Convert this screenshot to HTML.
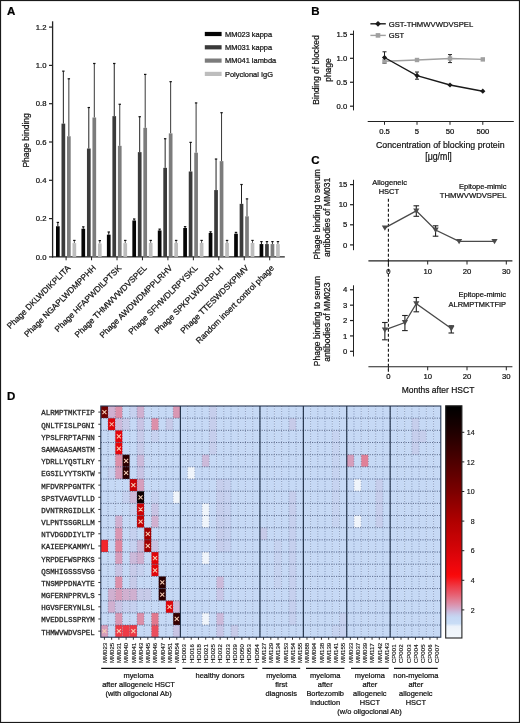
<!DOCTYPE html>
<html><head><meta charset="utf-8"><style>
html,body{margin:0;padding:0;background:#fff;}
body{width:520px;height:723px;overflow:hidden;}
svg{display:block;will-change:transform;filter:blur(0.35px);}
</style></head><body>
<svg width="520" height="723" viewBox="0 0 520 723">
<rect x="0" y="0" width="520" height="723" fill="#fff"/>
<text x="7.00" y="15.20" font-size="11.5" text-anchor="start" font-weight="bold" fill="#000" font-family='"Liberation Sans", sans-serif' stroke="#000" stroke-width="0.22">A</text>
<line x1="52.60" y1="21.30" x2="52.60" y2="257.40" stroke="#222" stroke-width="1.3"/>
<line x1="49.00" y1="256.90" x2="52.50" y2="256.90" stroke="#222" stroke-width="1.2"/>
<text x="46.50" y="259.50" font-size="7.7" text-anchor="end" font-weight="normal" fill="#111" font-family='"Liberation Sans", sans-serif' stroke="#111" stroke-width="0.22">0.0</text>
<line x1="49.00" y1="218.60" x2="52.50" y2="218.60" stroke="#222" stroke-width="1.2"/>
<text x="46.50" y="221.20" font-size="7.7" text-anchor="end" font-weight="normal" fill="#111" font-family='"Liberation Sans", sans-serif' stroke="#111" stroke-width="0.22">0.2</text>
<line x1="49.00" y1="180.30" x2="52.50" y2="180.30" stroke="#222" stroke-width="1.2"/>
<text x="46.50" y="182.90" font-size="7.7" text-anchor="end" font-weight="normal" fill="#111" font-family='"Liberation Sans", sans-serif' stroke="#111" stroke-width="0.22">0.4</text>
<line x1="49.00" y1="142.00" x2="52.50" y2="142.00" stroke="#222" stroke-width="1.2"/>
<text x="46.50" y="144.60" font-size="7.7" text-anchor="end" font-weight="normal" fill="#111" font-family='"Liberation Sans", sans-serif' stroke="#111" stroke-width="0.22">0.6</text>
<line x1="49.00" y1="103.70" x2="52.50" y2="103.70" stroke="#222" stroke-width="1.2"/>
<text x="46.50" y="106.30" font-size="7.7" text-anchor="end" font-weight="normal" fill="#111" font-family='"Liberation Sans", sans-serif' stroke="#111" stroke-width="0.22">0.8</text>
<line x1="49.00" y1="65.40" x2="52.50" y2="65.40" stroke="#222" stroke-width="1.2"/>
<text x="46.50" y="68.00" font-size="7.7" text-anchor="end" font-weight="normal" fill="#111" font-family='"Liberation Sans", sans-serif' stroke="#111" stroke-width="0.22">1.0</text>
<line x1="49.00" y1="27.10" x2="52.50" y2="27.10" stroke="#222" stroke-width="1.2"/>
<text x="46.50" y="29.70" font-size="7.7" text-anchor="end" font-weight="normal" fill="#111" font-family='"Liberation Sans", sans-serif' stroke="#111" stroke-width="0.22">1.2</text>
<text x="29.40" y="140.40" font-size="9.69" text-anchor="middle" font-weight="normal" fill="#111" font-family='"Liberation Sans", sans-serif' stroke="#111" stroke-width="0.22" textLength="54.35" lengthAdjust="spacingAndGlyphs" transform="rotate(-90 29.40 140.40)">Phage binding</text>
<line x1="52.00" y1="256.90" x2="284.80" y2="256.90" stroke="#222" stroke-width="1.4"/>
<line x1="66.10" y1="256.90" x2="66.10" y2="260.30" stroke="#222" stroke-width="1"/>
<line x1="91.55" y1="256.90" x2="91.55" y2="260.30" stroke="#222" stroke-width="1"/>
<line x1="117.00" y1="256.90" x2="117.00" y2="260.30" stroke="#222" stroke-width="1"/>
<line x1="142.45" y1="256.90" x2="142.45" y2="260.30" stroke="#222" stroke-width="1"/>
<line x1="167.90" y1="256.90" x2="167.90" y2="260.30" stroke="#222" stroke-width="1"/>
<line x1="193.35" y1="256.90" x2="193.35" y2="260.30" stroke="#222" stroke-width="1"/>
<line x1="218.80" y1="256.90" x2="218.80" y2="260.30" stroke="#222" stroke-width="1"/>
<line x1="244.25" y1="256.90" x2="244.25" y2="260.30" stroke="#222" stroke-width="1"/>
<line x1="269.70" y1="256.90" x2="269.70" y2="260.30" stroke="#222" stroke-width="1"/>
<line x1="57.85" y1="222.43" x2="57.85" y2="226.26" stroke="#111" stroke-width="1"/>
<line x1="56.65" y1="222.43" x2="59.05" y2="222.43" stroke="#111" stroke-width="1.2"/>
<rect x="56.00" y="226.26" width="3.70" height="30.64" fill="#050505"/>
<line x1="63.35" y1="71.14" x2="63.35" y2="123.62" stroke="#222" stroke-width="1"/>
<line x1="62.15" y1="71.14" x2="64.55" y2="71.14" stroke="#111" stroke-width="1.2"/>
<rect x="61.50" y="123.62" width="3.70" height="133.28" fill="#3a3a3a"/>
<line x1="68.85" y1="78.80" x2="68.85" y2="136.25" stroke="#383838" stroke-width="1"/>
<line x1="67.65" y1="78.80" x2="70.05" y2="78.80" stroke="#111" stroke-width="1.2"/>
<rect x="67.00" y="136.25" width="3.70" height="120.64" fill="#7c7c7c"/>
<line x1="74.35" y1="240.43" x2="74.35" y2="243.11" stroke="#555" stroke-width="1"/>
<line x1="73.15" y1="240.43" x2="75.55" y2="240.43" stroke="#111" stroke-width="1.2"/>
<rect x="72.50" y="243.11" width="3.70" height="13.79" fill="#bdbdbd"/>
<line x1="83.30" y1="226.83" x2="83.30" y2="228.75" stroke="#111" stroke-width="1"/>
<line x1="82.10" y1="226.83" x2="84.50" y2="226.83" stroke="#111" stroke-width="1.2"/>
<rect x="81.45" y="228.75" width="3.70" height="28.15" fill="#050505"/>
<line x1="88.80" y1="107.53" x2="88.80" y2="148.51" stroke="#222" stroke-width="1"/>
<line x1="87.60" y1="107.53" x2="90.00" y2="107.53" stroke="#111" stroke-width="1.2"/>
<rect x="86.95" y="148.51" width="3.70" height="108.39" fill="#3a3a3a"/>
<line x1="94.30" y1="63.48" x2="94.30" y2="117.49" stroke="#383838" stroke-width="1"/>
<line x1="93.10" y1="63.48" x2="95.50" y2="63.48" stroke="#111" stroke-width="1.2"/>
<rect x="92.45" y="117.49" width="3.70" height="139.41" fill="#7c7c7c"/>
<line x1="99.80" y1="240.62" x2="99.80" y2="243.49" stroke="#555" stroke-width="1"/>
<line x1="98.60" y1="240.62" x2="101.00" y2="240.62" stroke="#111" stroke-width="1.2"/>
<rect x="97.95" y="243.49" width="3.70" height="13.41" fill="#bdbdbd"/>
<line x1="108.75" y1="232.00" x2="108.75" y2="234.69" stroke="#111" stroke-width="1"/>
<line x1="107.55" y1="232.00" x2="109.95" y2="232.00" stroke="#111" stroke-width="1.2"/>
<rect x="106.90" y="234.69" width="3.70" height="22.21" fill="#050505"/>
<line x1="114.25" y1="63.48" x2="114.25" y2="116.15" stroke="#222" stroke-width="1"/>
<line x1="113.05" y1="63.48" x2="115.45" y2="63.48" stroke="#111" stroke-width="1.2"/>
<rect x="112.40" y="116.15" width="3.70" height="140.75" fill="#3a3a3a"/>
<line x1="119.75" y1="104.27" x2="119.75" y2="145.83" stroke="#383838" stroke-width="1"/>
<line x1="118.55" y1="104.27" x2="120.95" y2="104.27" stroke="#111" stroke-width="1.2"/>
<rect x="117.90" y="145.83" width="3.70" height="111.07" fill="#7c7c7c"/>
<line x1="125.25" y1="240.43" x2="125.25" y2="243.11" stroke="#555" stroke-width="1"/>
<line x1="124.05" y1="240.43" x2="126.45" y2="240.43" stroke="#111" stroke-width="1.2"/>
<rect x="123.40" y="243.11" width="3.70" height="13.79" fill="#bdbdbd"/>
<line x1="134.20" y1="218.98" x2="134.20" y2="220.51" stroke="#111" stroke-width="1"/>
<line x1="133.00" y1="218.98" x2="135.40" y2="218.98" stroke="#111" stroke-width="1.2"/>
<rect x="132.35" y="220.51" width="3.70" height="36.38" fill="#050505"/>
<line x1="139.70" y1="116.72" x2="139.70" y2="152.15" stroke="#222" stroke-width="1"/>
<line x1="138.50" y1="116.72" x2="140.90" y2="116.72" stroke="#111" stroke-width="1.2"/>
<rect x="137.85" y="152.15" width="3.70" height="104.75" fill="#3a3a3a"/>
<line x1="145.20" y1="74.40" x2="145.20" y2="127.83" stroke="#383838" stroke-width="1"/>
<line x1="144.00" y1="74.40" x2="146.40" y2="74.40" stroke="#111" stroke-width="1.2"/>
<rect x="143.35" y="127.83" width="3.70" height="129.07" fill="#7c7c7c"/>
<line x1="150.70" y1="240.43" x2="150.70" y2="242.92" stroke="#555" stroke-width="1"/>
<line x1="149.50" y1="240.43" x2="151.90" y2="240.43" stroke="#111" stroke-width="1.2"/>
<rect x="148.85" y="242.92" width="3.70" height="13.98" fill="#bdbdbd"/>
<line x1="159.65" y1="229.13" x2="159.65" y2="230.47" stroke="#111" stroke-width="1"/>
<line x1="158.45" y1="229.13" x2="160.85" y2="229.13" stroke="#111" stroke-width="1.2"/>
<rect x="157.80" y="230.47" width="3.70" height="26.43" fill="#050505"/>
<line x1="165.15" y1="138.74" x2="165.15" y2="167.85" stroke="#222" stroke-width="1"/>
<line x1="163.95" y1="138.74" x2="166.35" y2="138.74" stroke="#111" stroke-width="1.2"/>
<rect x="163.30" y="167.85" width="3.70" height="89.05" fill="#3a3a3a"/>
<line x1="170.65" y1="81.68" x2="170.65" y2="133.38" stroke="#383838" stroke-width="1"/>
<line x1="169.45" y1="81.68" x2="171.85" y2="81.68" stroke="#111" stroke-width="1.2"/>
<rect x="168.80" y="133.38" width="3.70" height="123.52" fill="#7c7c7c"/>
<line x1="176.15" y1="240.43" x2="176.15" y2="242.92" stroke="#555" stroke-width="1"/>
<line x1="174.95" y1="240.43" x2="177.35" y2="240.43" stroke="#111" stroke-width="1.2"/>
<rect x="174.30" y="242.92" width="3.70" height="13.98" fill="#bdbdbd"/>
<line x1="185.10" y1="226.64" x2="185.10" y2="227.98" stroke="#111" stroke-width="1"/>
<line x1="183.90" y1="226.64" x2="186.30" y2="226.64" stroke="#111" stroke-width="1.2"/>
<rect x="183.25" y="227.98" width="3.70" height="28.92" fill="#050505"/>
<line x1="190.60" y1="142.38" x2="190.60" y2="171.49" stroke="#222" stroke-width="1"/>
<line x1="189.40" y1="142.38" x2="191.80" y2="142.38" stroke="#111" stroke-width="1.2"/>
<rect x="188.75" y="171.49" width="3.70" height="85.41" fill="#3a3a3a"/>
<line x1="196.10" y1="102.93" x2="196.10" y2="152.72" stroke="#383838" stroke-width="1"/>
<line x1="194.90" y1="102.93" x2="197.30" y2="102.93" stroke="#111" stroke-width="1.2"/>
<rect x="194.25" y="152.72" width="3.70" height="104.18" fill="#7c7c7c"/>
<line x1="201.60" y1="240.43" x2="201.60" y2="242.92" stroke="#555" stroke-width="1"/>
<line x1="200.40" y1="240.43" x2="202.80" y2="240.43" stroke="#111" stroke-width="1.2"/>
<rect x="199.75" y="242.92" width="3.70" height="13.98" fill="#bdbdbd"/>
<line x1="210.55" y1="231.81" x2="210.55" y2="232.96" stroke="#111" stroke-width="1"/>
<line x1="209.35" y1="231.81" x2="211.75" y2="231.81" stroke="#111" stroke-width="1.2"/>
<rect x="208.70" y="232.96" width="3.70" height="23.94" fill="#050505"/>
<line x1="216.05" y1="159.04" x2="216.05" y2="190.07" stroke="#222" stroke-width="1"/>
<line x1="214.85" y1="159.04" x2="217.25" y2="159.04" stroke="#111" stroke-width="1.2"/>
<rect x="214.20" y="190.07" width="3.70" height="66.83" fill="#3a3a3a"/>
<line x1="221.55" y1="112.70" x2="221.55" y2="161.15" stroke="#383838" stroke-width="1"/>
<line x1="220.35" y1="112.70" x2="222.75" y2="112.70" stroke="#111" stroke-width="1.2"/>
<rect x="219.70" y="161.15" width="3.70" height="95.75" fill="#7c7c7c"/>
<line x1="227.05" y1="240.43" x2="227.05" y2="242.92" stroke="#555" stroke-width="1"/>
<line x1="225.85" y1="240.43" x2="228.25" y2="240.43" stroke="#111" stroke-width="1.2"/>
<rect x="225.20" y="242.92" width="3.70" height="13.98" fill="#bdbdbd"/>
<line x1="236.00" y1="232.39" x2="236.00" y2="233.73" stroke="#111" stroke-width="1"/>
<line x1="234.80" y1="232.39" x2="237.20" y2="232.39" stroke="#111" stroke-width="1.2"/>
<rect x="234.15" y="233.73" width="3.70" height="23.17" fill="#050505"/>
<line x1="241.50" y1="184.51" x2="241.50" y2="203.85" stroke="#222" stroke-width="1"/>
<line x1="240.30" y1="184.51" x2="242.70" y2="184.51" stroke="#111" stroke-width="1.2"/>
<rect x="239.65" y="203.85" width="3.70" height="53.05" fill="#3a3a3a"/>
<line x1="247.00" y1="198.88" x2="247.00" y2="216.30" stroke="#383838" stroke-width="1"/>
<line x1="245.80" y1="198.88" x2="248.20" y2="198.88" stroke="#111" stroke-width="1.2"/>
<rect x="245.15" y="216.30" width="3.70" height="40.60" fill="#7c7c7c"/>
<line x1="252.50" y1="240.43" x2="252.50" y2="242.92" stroke="#555" stroke-width="1"/>
<line x1="251.30" y1="240.43" x2="253.70" y2="240.43" stroke="#111" stroke-width="1.2"/>
<rect x="250.65" y="242.92" width="3.70" height="13.98" fill="#bdbdbd"/>
<line x1="261.45" y1="241.58" x2="261.45" y2="244.07" stroke="#111" stroke-width="1"/>
<line x1="260.25" y1="241.58" x2="262.65" y2="241.58" stroke="#111" stroke-width="1.2"/>
<rect x="259.60" y="244.07" width="3.70" height="12.83" fill="#050505"/>
<line x1="266.95" y1="241.58" x2="266.95" y2="244.07" stroke="#222" stroke-width="1"/>
<line x1="265.75" y1="241.58" x2="268.15" y2="241.58" stroke="#111" stroke-width="1.2"/>
<rect x="265.10" y="244.07" width="3.70" height="12.83" fill="#3a3a3a"/>
<line x1="272.45" y1="241.58" x2="272.45" y2="244.07" stroke="#383838" stroke-width="1"/>
<line x1="271.25" y1="241.58" x2="273.65" y2="241.58" stroke="#111" stroke-width="1.2"/>
<rect x="270.60" y="244.07" width="3.70" height="12.83" fill="#7c7c7c"/>
<line x1="277.95" y1="241.58" x2="277.95" y2="244.07" stroke="#555" stroke-width="1"/>
<line x1="276.75" y1="241.58" x2="279.15" y2="241.58" stroke="#111" stroke-width="1.2"/>
<rect x="276.10" y="244.07" width="3.70" height="12.83" fill="#bdbdbd"/>
<rect x="204.80" y="31.90" width="16.80" height="4.20" fill="#050505"/>
<text x="225.00" y="36.70" font-size="7.45" text-anchor="start" font-weight="normal" fill="#111" font-family='"Liberation Sans", sans-serif' stroke="#111" stroke-width="0.22">MM023 kappa</text>
<rect x="204.80" y="45.20" width="16.80" height="4.20" fill="#3a3a3a"/>
<text x="225.00" y="50.00" font-size="7.45" text-anchor="start" font-weight="normal" fill="#111" font-family='"Liberation Sans", sans-serif' stroke="#111" stroke-width="0.22">MM031 kappa</text>
<rect x="204.80" y="58.50" width="16.80" height="4.20" fill="#7c7c7c"/>
<text x="225.00" y="63.30" font-size="7.45" text-anchor="start" font-weight="normal" fill="#111" font-family='"Liberation Sans", sans-serif' stroke="#111" stroke-width="0.22">MM041 lambda</text>
<rect x="204.80" y="71.80" width="16.80" height="4.20" fill="#bdbdbd"/>
<text x="225.00" y="76.60" font-size="7.45" text-anchor="start" font-weight="normal" fill="#111" font-family='"Liberation Sans", sans-serif' stroke="#111" stroke-width="0.22">Polyclonal IgG</text>
<text x="71.00" y="268.60" font-size="8.3" text-anchor="end" font-weight="normal" fill="#111" font-family='"Liberation Sans", sans-serif' stroke="#111" stroke-width="0.22" transform="rotate(-45 71.00 268.60)">Phage DKLWDIKPLITA</text>
<text x="96.45" y="268.60" font-size="8.3" text-anchor="end" font-weight="normal" fill="#111" font-family='"Liberation Sans", sans-serif' stroke="#111" stroke-width="0.22" transform="rotate(-45 96.45 268.60)">Phage NGAPLWDMPPHH</text>
<text x="121.90" y="268.60" font-size="8.3" text-anchor="end" font-weight="normal" fill="#111" font-family='"Liberation Sans", sans-serif' stroke="#111" stroke-width="0.22" transform="rotate(-45 121.90 268.60)">Phage HFAPWDILPTSK</text>
<text x="147.35" y="268.60" font-size="8.3" text-anchor="end" font-weight="normal" fill="#111" font-family='"Liberation Sans", sans-serif' stroke="#111" stroke-width="0.22" transform="rotate(-45 147.35 268.60)">Phage THMWVWDVSPEL</text>
<text x="172.80" y="268.60" font-size="8.3" text-anchor="end" font-weight="normal" fill="#111" font-family='"Liberation Sans", sans-serif' stroke="#111" stroke-width="0.22" transform="rotate(-45 172.80 268.60)">Phage AWDWDMPPLRHV</text>
<text x="198.25" y="268.60" font-size="8.3" text-anchor="end" font-weight="normal" fill="#111" font-family='"Liberation Sans", sans-serif' stroke="#111" stroke-width="0.22" transform="rotate(-45 198.25 268.60)">Phage SFHWDLRPYSKL</text>
<text x="223.70" y="268.60" font-size="8.3" text-anchor="end" font-weight="normal" fill="#111" font-family='"Liberation Sans", sans-serif' stroke="#111" stroke-width="0.22" transform="rotate(-45 223.70 268.60)">Phage SPKPLWDLRPLH</text>
<text x="249.15" y="268.60" font-size="8.3" text-anchor="end" font-weight="normal" fill="#111" font-family='"Liberation Sans", sans-serif' stroke="#111" stroke-width="0.22" transform="rotate(-45 249.15 268.60)">Phage TTESWDSKPIMV</text>
<text x="274.60" y="268.60" font-size="8.3" text-anchor="end" font-weight="normal" fill="#111" font-family='"Liberation Sans", sans-serif' stroke="#111" stroke-width="0.22" transform="rotate(-45 274.60 268.60)">Random insert control phage</text>
<text x="311.30" y="15.20" font-size="11.5" text-anchor="start" font-weight="bold" fill="#000" font-family='"Liberation Sans", sans-serif' stroke="#000" stroke-width="0.22">B</text>
<line x1="353.50" y1="30.60" x2="353.50" y2="110.40" stroke="#222" stroke-width="1"/>
<line x1="350.00" y1="106.20" x2="353.50" y2="106.20" stroke="#222" stroke-width="1.2"/>
<text x="347.20" y="108.80" font-size="7.7" text-anchor="end" font-weight="normal" fill="#111" font-family='"Liberation Sans", sans-serif' stroke="#111" stroke-width="0.22">0.0</text>
<line x1="350.00" y1="82.25" x2="353.50" y2="82.25" stroke="#222" stroke-width="1.2"/>
<text x="347.20" y="84.85" font-size="7.7" text-anchor="end" font-weight="normal" fill="#111" font-family='"Liberation Sans", sans-serif' stroke="#111" stroke-width="0.22">0.5</text>
<line x1="350.00" y1="58.30" x2="353.50" y2="58.30" stroke="#222" stroke-width="1.2"/>
<text x="347.20" y="60.90" font-size="7.7" text-anchor="end" font-weight="normal" fill="#111" font-family='"Liberation Sans", sans-serif' stroke="#111" stroke-width="0.22">1.0</text>
<line x1="350.00" y1="34.35" x2="353.50" y2="34.35" stroke="#222" stroke-width="1.2"/>
<text x="347.20" y="36.95" font-size="7.7" text-anchor="end" font-weight="normal" fill="#111" font-family='"Liberation Sans", sans-serif' stroke="#111" stroke-width="0.22">1.5</text>
<text x="319.40" y="69.90" font-size="9.69" text-anchor="middle" font-weight="normal" fill="#111" font-family='"Liberation Sans", sans-serif' stroke="#111" stroke-width="0.22" textLength="69.47" lengthAdjust="spacingAndGlyphs" transform="rotate(-90 319.40 69.90)">Binding of blocked</text>
<text x="330.60" y="70.00" font-size="9.69" text-anchor="middle" font-weight="normal" fill="#111" font-family='"Liberation Sans", sans-serif' stroke="#111" stroke-width="0.22" textLength="23.64" lengthAdjust="spacingAndGlyphs" transform="rotate(-90 330.60 70.00)">phage</text>
<line x1="367.70" y1="121.50" x2="513.80" y2="121.50" stroke="#222" stroke-width="1.1"/>
<line x1="384.50" y1="121.50" x2="384.50" y2="124.80" stroke="#222" stroke-width="1"/>
<text x="384.50" y="134.40" font-size="7.7" text-anchor="middle" font-weight="normal" fill="#111" font-family='"Liberation Sans", sans-serif' stroke="#111" stroke-width="0.22">0.5</text>
<line x1="417.00" y1="121.50" x2="417.00" y2="124.80" stroke="#222" stroke-width="1"/>
<text x="417.00" y="134.40" font-size="7.7" text-anchor="middle" font-weight="normal" fill="#111" font-family='"Liberation Sans", sans-serif' stroke="#111" stroke-width="0.22">5</text>
<line x1="450.00" y1="121.50" x2="450.00" y2="124.80" stroke="#222" stroke-width="1"/>
<text x="450.00" y="134.40" font-size="7.7" text-anchor="middle" font-weight="normal" fill="#111" font-family='"Liberation Sans", sans-serif' stroke="#111" stroke-width="0.22">50</text>
<line x1="482.80" y1="121.50" x2="482.80" y2="124.80" stroke="#222" stroke-width="1"/>
<text x="482.80" y="134.40" font-size="7.7" text-anchor="middle" font-weight="normal" fill="#111" font-family='"Liberation Sans", sans-serif' stroke="#111" stroke-width="0.22">500</text>
<text x="440.30" y="147.60" font-size="9.9" text-anchor="middle" font-weight="normal" fill="#111" font-family='"Liberation Sans", sans-serif' stroke="#111" stroke-width="0.22" textLength="128.6" lengthAdjust="spacingAndGlyphs">Concentration of blocking protein</text>
<text x="438.50" y="159.60" font-size="10.03" text-anchor="middle" font-weight="normal" fill="#111" font-family='"Liberation Sans", sans-serif' stroke="#111" stroke-width="0.22" textLength="26.58" lengthAdjust="spacingAndGlyphs">[μg/ml]</text>
<polyline points="384.5,61.3 417.0,60.0 450.0,58.5 482.8,59.4" fill="none" stroke="#a0a0a0" stroke-width="1.4"/>
<polyline points="384.5,57.5 417.0,75.6 450.0,85.0 482.8,91.2" fill="none" stroke="#1a1a1a" stroke-width="1.4"/>
<line x1="384.50" y1="51.80" x2="384.50" y2="63.20" stroke="#222" stroke-width="1"/>
<line x1="382.50" y1="51.80" x2="386.50" y2="51.80" stroke="#222" stroke-width="1"/>
<line x1="382.50" y1="63.20" x2="386.50" y2="63.20" stroke="#222" stroke-width="1"/>
<line x1="417.00" y1="72.00" x2="417.00" y2="79.20" stroke="#222" stroke-width="1"/>
<line x1="415.00" y1="72.00" x2="419.00" y2="72.00" stroke="#222" stroke-width="1"/>
<line x1="415.00" y1="79.20" x2="419.00" y2="79.20" stroke="#222" stroke-width="1"/>
<line x1="450.00" y1="54.60" x2="450.00" y2="62.60" stroke="#222" stroke-width="1"/>
<line x1="448.00" y1="54.60" x2="452.00" y2="54.60" stroke="#222" stroke-width="1"/>
<line x1="448.00" y1="62.60" x2="452.00" y2="62.60" stroke="#222" stroke-width="1"/>
<rect x="382.30" y="59.10" width="4.40" height="4.40" fill="#a0a0a0"/>
<rect x="414.80" y="57.80" width="4.40" height="4.40" fill="#a0a0a0"/>
<rect x="447.80" y="56.30" width="4.40" height="4.40" fill="#a0a0a0"/>
<rect x="480.60" y="57.20" width="4.40" height="4.40" fill="#a0a0a0"/>
<polygon points="384.5,54.9 387.1,57.5 384.5,60.1 381.9,57.5" fill="#1a1a1a"/>
<polygon points="417.0,73.0 419.6,75.6 417.0,78.2 414.4,75.6" fill="#1a1a1a"/>
<polygon points="450.0,82.4 452.6,85.0 450.0,87.6 447.4,85.0" fill="#1a1a1a"/>
<polygon points="482.8,88.6 485.4,91.2 482.8,93.8 480.2,91.2" fill="#1a1a1a"/>
<line x1="370.40" y1="23.80" x2="385.80" y2="23.80" stroke="#1a1a1a" stroke-width="1.4"/>
<polygon points="378,20.9 380.9,23.8 378,26.7 375.1,23.8" fill="#1a1a1a"/>
<text x="388.70" y="26.50" font-size="7.7" text-anchor="start" font-weight="normal" fill="#111" font-family='"Liberation Sans", sans-serif' stroke="#111" stroke-width="0.22">GST-THMWVWDVSPEL</text>
<line x1="370.40" y1="35.40" x2="385.80" y2="35.40" stroke="#a0a0a0" stroke-width="1.4"/>
<rect x="375.70" y="33.10" width="4.60" height="4.60" fill="#a0a0a0"/>
<text x="388.70" y="38.10" font-size="7.5" text-anchor="start" font-weight="normal" fill="#111" font-family='"Liberation Sans", sans-serif' stroke="#111" stroke-width="0.22">GST</text>
<text x="311.30" y="163.70" font-size="11.5" text-anchor="start" font-weight="bold" fill="#000" font-family='"Liberation Sans", sans-serif' stroke="#000" stroke-width="0.22">C</text>
<line x1="353.50" y1="179.80" x2="353.50" y2="250.20" stroke="#222" stroke-width="1"/>
<line x1="350.00" y1="244.90" x2="353.50" y2="244.90" stroke="#222" stroke-width="1.2"/>
<text x="347.30" y="247.50" font-size="7.7" text-anchor="end" font-weight="normal" fill="#111" font-family='"Liberation Sans", sans-serif' stroke="#111" stroke-width="0.22">0</text>
<line x1="350.00" y1="224.80" x2="353.50" y2="224.80" stroke="#222" stroke-width="1.2"/>
<text x="347.30" y="227.40" font-size="7.7" text-anchor="end" font-weight="normal" fill="#111" font-family='"Liberation Sans", sans-serif' stroke="#111" stroke-width="0.22">5</text>
<line x1="350.00" y1="204.70" x2="353.50" y2="204.70" stroke="#222" stroke-width="1.2"/>
<text x="347.30" y="207.30" font-size="7.7" text-anchor="end" font-weight="normal" fill="#111" font-family='"Liberation Sans", sans-serif' stroke="#111" stroke-width="0.22">10</text>
<line x1="350.00" y1="184.60" x2="353.50" y2="184.60" stroke="#222" stroke-width="1.2"/>
<text x="347.30" y="187.20" font-size="7.7" text-anchor="end" font-weight="normal" fill="#111" font-family='"Liberation Sans", sans-serif' stroke="#111" stroke-width="0.22">15</text>
<line x1="368.40" y1="260.90" x2="512.40" y2="260.90" stroke="#222" stroke-width="1.1"/>
<line x1="388.40" y1="260.90" x2="388.40" y2="264.50" stroke="#222" stroke-width="1"/>
<text x="388.40" y="274.20" font-size="7.7" text-anchor="middle" font-weight="normal" fill="#111" font-family='"Liberation Sans", sans-serif' stroke="#111" stroke-width="0.22">0</text>
<line x1="427.70" y1="260.90" x2="427.70" y2="264.50" stroke="#222" stroke-width="1"/>
<text x="427.70" y="274.20" font-size="7.7" text-anchor="middle" font-weight="normal" fill="#111" font-family='"Liberation Sans", sans-serif' stroke="#111" stroke-width="0.22">10</text>
<line x1="467.00" y1="260.90" x2="467.00" y2="264.50" stroke="#222" stroke-width="1"/>
<text x="467.00" y="274.20" font-size="7.7" text-anchor="middle" font-weight="normal" fill="#111" font-family='"Liberation Sans", sans-serif' stroke="#111" stroke-width="0.22">20</text>
<line x1="506.30" y1="260.90" x2="506.30" y2="264.50" stroke="#222" stroke-width="1"/>
<text x="506.30" y="274.20" font-size="7.7" text-anchor="middle" font-weight="normal" fill="#111" font-family='"Liberation Sans", sans-serif' stroke="#111" stroke-width="0.22">30</text>
<text x="320.40" y="214.30" font-size="9.75" text-anchor="middle" font-weight="normal" fill="#111" font-family='"Liberation Sans", sans-serif' stroke="#111" stroke-width="0.22" textLength="90.31" lengthAdjust="spacingAndGlyphs" transform="rotate(-90 320.40 214.30)">Phage binding to serum</text>
<text x="330.20" y="217.40" font-size="9.75" text-anchor="middle" font-weight="normal" fill="#111" font-family='"Liberation Sans", sans-serif' stroke="#111" stroke-width="0.22" textLength="79.37" lengthAdjust="spacingAndGlyphs" transform="rotate(-90 330.20 217.40)">antibodies of MM031</text>
<text x="389.60" y="185.10" font-size="7.5" text-anchor="middle" font-weight="normal" fill="#111" font-family='"Liberation Sans", sans-serif' stroke="#111" stroke-width="0.22">Allogeneic</text>
<text x="388.90" y="194.20" font-size="7.5" text-anchor="middle" font-weight="normal" fill="#111" font-family='"Liberation Sans", sans-serif' stroke="#111" stroke-width="0.22">HSCT</text>
<text x="506.50" y="189.40" font-size="7.5" text-anchor="end" font-weight="normal" fill="#111" font-family='"Liberation Sans", sans-serif' stroke="#111" stroke-width="0.22">Epitope-mimic</text>
<text x="506.50" y="198.40" font-size="7.7" text-anchor="end" font-weight="normal" fill="#111" font-family='"Liberation Sans", sans-serif' stroke="#111" stroke-width="0.22">THMWVWDVSPEL</text>
<line x1="388.4" y1="198.8" x2="388.4" y2="375" stroke="#111" stroke-width="1.1" stroke-dasharray="3,2"/>
<polyline points="384.9,227.9 416.3,210.9 435.6,230.0 459.1,241.4 494.5,241.4" fill="none" stroke="#4a4a4a" stroke-width="1.3"/>
<polygon points="381.8,225.5 388.0,225.5 384.9,230.8" fill="#4a4a4a"/>
<line x1="416.30" y1="205.80" x2="416.30" y2="216.30" stroke="#222" stroke-width="1.1"/>
<line x1="413.50" y1="205.80" x2="419.10" y2="205.80" stroke="#222" stroke-width="1.1"/>
<line x1="413.50" y1="216.30" x2="419.10" y2="216.30" stroke="#222" stroke-width="1.1"/>
<polygon points="413.2,208.5 419.4,208.5 416.3,213.8" fill="#4a4a4a"/>
<line x1="435.56" y1="225.80" x2="435.56" y2="236.20" stroke="#222" stroke-width="1.1"/>
<line x1="432.76" y1="225.80" x2="438.36" y2="225.80" stroke="#222" stroke-width="1.1"/>
<line x1="432.76" y1="236.20" x2="438.36" y2="236.20" stroke="#222" stroke-width="1.1"/>
<polygon points="432.5,227.6 438.7,227.6 435.6,232.9" fill="#4a4a4a"/>
<polygon points="456.0,239.0 462.2,239.0 459.1,244.3" fill="#4a4a4a"/>
<polygon points="491.4,239.0 497.6,239.0 494.5,244.3" fill="#4a4a4a"/>
<line x1="353.50" y1="285.30" x2="353.50" y2="356.50" stroke="#222" stroke-width="1"/>
<line x1="350.00" y1="351.30" x2="353.50" y2="351.30" stroke="#222" stroke-width="1.2"/>
<text x="347.30" y="353.90" font-size="7.7" text-anchor="end" font-weight="normal" fill="#111" font-family='"Liberation Sans", sans-serif' stroke="#111" stroke-width="0.22">0</text>
<line x1="350.00" y1="335.92" x2="353.50" y2="335.92" stroke="#222" stroke-width="1.2"/>
<text x="347.30" y="338.52" font-size="7.7" text-anchor="end" font-weight="normal" fill="#111" font-family='"Liberation Sans", sans-serif' stroke="#111" stroke-width="0.22">1</text>
<line x1="350.00" y1="320.54" x2="353.50" y2="320.54" stroke="#222" stroke-width="1.2"/>
<text x="347.30" y="323.14" font-size="7.7" text-anchor="end" font-weight="normal" fill="#111" font-family='"Liberation Sans", sans-serif' stroke="#111" stroke-width="0.22">2</text>
<line x1="350.00" y1="305.16" x2="353.50" y2="305.16" stroke="#222" stroke-width="1.2"/>
<text x="347.30" y="307.76" font-size="7.7" text-anchor="end" font-weight="normal" fill="#111" font-family='"Liberation Sans", sans-serif' stroke="#111" stroke-width="0.22">3</text>
<line x1="350.00" y1="289.78" x2="353.50" y2="289.78" stroke="#222" stroke-width="1.2"/>
<text x="347.30" y="292.38" font-size="7.7" text-anchor="end" font-weight="normal" fill="#111" font-family='"Liberation Sans", sans-serif' stroke="#111" stroke-width="0.22">4</text>
<line x1="368.40" y1="366.70" x2="512.40" y2="366.70" stroke="#222" stroke-width="1.1"/>
<line x1="388.40" y1="366.70" x2="388.40" y2="370.30" stroke="#222" stroke-width="1"/>
<text x="388.40" y="379.10" font-size="7.7" text-anchor="middle" font-weight="normal" fill="#111" font-family='"Liberation Sans", sans-serif' stroke="#111" stroke-width="0.22">0</text>
<line x1="427.70" y1="366.70" x2="427.70" y2="370.30" stroke="#222" stroke-width="1"/>
<text x="427.70" y="379.10" font-size="7.7" text-anchor="middle" font-weight="normal" fill="#111" font-family='"Liberation Sans", sans-serif' stroke="#111" stroke-width="0.22">10</text>
<line x1="467.00" y1="366.70" x2="467.00" y2="370.30" stroke="#222" stroke-width="1"/>
<text x="467.00" y="379.10" font-size="7.7" text-anchor="middle" font-weight="normal" fill="#111" font-family='"Liberation Sans", sans-serif' stroke="#111" stroke-width="0.22">20</text>
<line x1="506.30" y1="366.70" x2="506.30" y2="370.30" stroke="#222" stroke-width="1"/>
<text x="506.30" y="379.10" font-size="7.7" text-anchor="middle" font-weight="normal" fill="#111" font-family='"Liberation Sans", sans-serif' stroke="#111" stroke-width="0.22">30</text>
<text x="320.30" y="321.00" font-size="9.75" text-anchor="middle" font-weight="normal" fill="#111" font-family='"Liberation Sans", sans-serif' stroke="#111" stroke-width="0.22" textLength="90.31" lengthAdjust="spacingAndGlyphs" transform="rotate(-90 320.30 321.00)">Phage binding to serum</text>
<text x="330.20" y="322.10" font-size="9.75" text-anchor="middle" font-weight="normal" fill="#111" font-family='"Liberation Sans", sans-serif' stroke="#111" stroke-width="0.22" textLength="79.37" lengthAdjust="spacingAndGlyphs" transform="rotate(-90 330.20 322.10)">antibodies of MM023</text>
<text x="506.00" y="296.70" font-size="7.5" text-anchor="end" font-weight="normal" fill="#111" font-family='"Liberation Sans", sans-serif' stroke="#111" stroke-width="0.22">Epitope-mimic</text>
<text x="506.00" y="306.80" font-size="7.45" text-anchor="end" font-weight="normal" fill="#111" font-family='"Liberation Sans", sans-serif' stroke="#111" stroke-width="0.22">ALRMPTMKTFIP</text>
<polyline points="384.9,329.8 404.9,322.5 416.3,303.7 451.3,328.5" fill="none" stroke="#4a4a4a" stroke-width="1.3"/>
<line x1="384.86" y1="322.50" x2="384.86" y2="339.80" stroke="#222" stroke-width="1.1"/>
<line x1="382.06" y1="322.50" x2="387.66" y2="322.50" stroke="#222" stroke-width="1.1"/>
<line x1="382.06" y1="339.80" x2="387.66" y2="339.80" stroke="#222" stroke-width="1.1"/>
<polygon points="381.8,327.4 388.0,327.4 384.9,332.7" fill="#4a4a4a"/>
<line x1="404.91" y1="315.50" x2="404.91" y2="330.60" stroke="#222" stroke-width="1.1"/>
<line x1="402.11" y1="315.50" x2="407.71" y2="315.50" stroke="#222" stroke-width="1.1"/>
<line x1="402.11" y1="330.60" x2="407.71" y2="330.60" stroke="#222" stroke-width="1.1"/>
<polygon points="401.8,320.1 408.0,320.1 404.9,325.4" fill="#4a4a4a"/>
<line x1="416.30" y1="297.50" x2="416.30" y2="311.80" stroke="#222" stroke-width="1.1"/>
<line x1="413.50" y1="297.50" x2="419.10" y2="297.50" stroke="#222" stroke-width="1.1"/>
<line x1="413.50" y1="311.80" x2="419.10" y2="311.80" stroke="#222" stroke-width="1.1"/>
<polygon points="413.2,301.3 419.4,301.3 416.3,306.6" fill="#4a4a4a"/>
<line x1="451.28" y1="325.80" x2="451.28" y2="333.00" stroke="#222" stroke-width="1.1"/>
<line x1="448.48" y1="325.80" x2="454.08" y2="325.80" stroke="#222" stroke-width="1.1"/>
<line x1="448.48" y1="333.00" x2="454.08" y2="333.00" stroke="#222" stroke-width="1.1"/>
<polygon points="448.2,326.1 454.4,326.1 451.3,331.4" fill="#4a4a4a"/>
<text x="438.00" y="393.40" font-size="9.69" text-anchor="middle" font-weight="normal" fill="#111" font-family='"Liberation Sans", sans-serif' stroke="#111" stroke-width="0.22" textLength="72.74" lengthAdjust="spacingAndGlyphs">Months after HSCT</text>
<text x="7.00" y="399.50" font-size="11.5" text-anchor="start" font-weight="bold" fill="#000" font-family='"Liberation Sans", sans-serif' stroke="#000" stroke-width="0.22">D</text>
<rect x="100.80" y="406.00" width="7.28" height="12.22" fill="#700000"/>
<rect x="108.03" y="406.00" width="7.28" height="12.22" fill="#d0b0d0"/>
<rect x="115.27" y="406.00" width="7.28" height="12.22" fill="#dc90aa"/>
<rect x="122.50" y="406.00" width="7.28" height="12.22" fill="#c6d9f5"/>
<rect x="129.74" y="406.00" width="7.28" height="12.22" fill="#c6d1ef"/>
<rect x="136.97" y="406.00" width="7.28" height="12.22" fill="#d0b0d0"/>
<rect x="144.20" y="406.00" width="7.28" height="12.22" fill="#c6d9f5"/>
<rect x="151.44" y="406.00" width="7.28" height="12.22" fill="#c6d9f5"/>
<rect x="158.67" y="406.00" width="7.28" height="12.22" fill="#c6d9f5"/>
<rect x="165.91" y="406.00" width="7.28" height="12.22" fill="#c6d9f5"/>
<rect x="173.14" y="406.00" width="7.28" height="12.22" fill="#d997b3"/>
<rect x="180.37" y="406.00" width="7.28" height="12.22" fill="#c6d9f5"/>
<rect x="187.61" y="406.00" width="7.28" height="12.22" fill="#c6d9f5"/>
<rect x="194.84" y="406.00" width="7.28" height="12.22" fill="#c6d9f5"/>
<rect x="202.08" y="406.00" width="7.28" height="12.22" fill="#c6d9f5"/>
<rect x="209.31" y="406.00" width="7.28" height="12.22" fill="#c6ceec"/>
<rect x="216.54" y="406.00" width="7.28" height="12.22" fill="#c6d9f5"/>
<rect x="223.78" y="406.00" width="7.28" height="12.22" fill="#c6d9f5"/>
<rect x="231.01" y="406.00" width="7.28" height="12.22" fill="#c6d9f5"/>
<rect x="238.25" y="406.00" width="7.28" height="12.22" fill="#c6d9f5"/>
<rect x="245.48" y="406.00" width="7.28" height="12.22" fill="#c6d9f5"/>
<rect x="252.71" y="406.00" width="7.28" height="12.22" fill="#c6d9f5"/>
<rect x="259.95" y="406.00" width="7.28" height="12.22" fill="#c6d9f5"/>
<rect x="267.18" y="406.00" width="7.28" height="12.22" fill="#c6d9f5"/>
<rect x="274.42" y="406.00" width="7.28" height="12.22" fill="#c6d9f5"/>
<rect x="281.65" y="406.00" width="7.28" height="12.22" fill="#c6d9f5"/>
<rect x="288.88" y="406.00" width="7.28" height="12.22" fill="#c6d9f5"/>
<rect x="296.12" y="406.00" width="7.28" height="12.22" fill="#c6d9f5"/>
<rect x="303.35" y="406.00" width="7.28" height="12.22" fill="#c6d9f5"/>
<rect x="310.59" y="406.00" width="7.28" height="12.22" fill="#c6d9f5"/>
<rect x="317.82" y="406.00" width="7.28" height="12.22" fill="#c6d9f5"/>
<rect x="325.05" y="406.00" width="7.28" height="12.22" fill="#c6d9f5"/>
<rect x="332.29" y="406.00" width="7.28" height="12.22" fill="#c6d9f5"/>
<rect x="339.52" y="406.00" width="7.28" height="12.22" fill="#c6d9f5"/>
<rect x="346.76" y="406.00" width="7.28" height="12.22" fill="#c6d9f5"/>
<rect x="353.99" y="406.00" width="7.28" height="12.22" fill="#c6d9f5"/>
<rect x="361.22" y="406.00" width="7.28" height="12.22" fill="#c6d9f5"/>
<rect x="368.46" y="406.00" width="7.28" height="12.22" fill="#c6d9f5"/>
<rect x="375.69" y="406.00" width="7.28" height="12.22" fill="#c6d9f5"/>
<rect x="382.93" y="406.00" width="7.28" height="12.22" fill="#c6d9f5"/>
<rect x="390.16" y="406.00" width="7.28" height="12.22" fill="#c6d9f5"/>
<rect x="397.39" y="406.00" width="7.28" height="12.22" fill="#c6d9f5"/>
<rect x="404.63" y="406.00" width="7.28" height="12.22" fill="#c6d9f5"/>
<rect x="411.86" y="406.00" width="7.28" height="12.22" fill="#c6d9f5"/>
<rect x="419.10" y="406.00" width="7.28" height="12.22" fill="#c6d9f5"/>
<rect x="426.33" y="406.00" width="7.28" height="12.22" fill="#c6d9f5"/>
<rect x="433.56" y="406.00" width="7.28" height="12.22" fill="#c6d9f5"/>
<rect x="100.80" y="418.17" width="7.28" height="12.22" fill="#c6d9f5"/>
<rect x="108.03" y="418.17" width="7.28" height="12.22" fill="#e1050a"/>
<rect x="115.27" y="418.17" width="7.28" height="12.22" fill="#ccbada"/>
<rect x="122.50" y="418.17" width="7.28" height="12.22" fill="#c7cbe9"/>
<rect x="129.74" y="418.17" width="7.28" height="12.22" fill="#c6d9f5"/>
<rect x="136.97" y="418.17" width="7.28" height="12.22" fill="#c8c4e4"/>
<rect x="144.20" y="418.17" width="7.28" height="12.22" fill="#c6d9f5"/>
<rect x="151.44" y="418.17" width="7.28" height="12.22" fill="#dc90aa"/>
<rect x="158.67" y="418.17" width="7.28" height="12.22" fill="#c6d9f5"/>
<rect x="165.91" y="418.17" width="7.28" height="12.22" fill="#c7cbe9"/>
<rect x="173.14" y="418.17" width="7.28" height="12.22" fill="#c6d9f5"/>
<rect x="180.37" y="418.17" width="7.28" height="12.22" fill="#c6d9f5"/>
<rect x="187.61" y="418.17" width="7.28" height="12.22" fill="#c6d9f5"/>
<rect x="194.84" y="418.17" width="7.28" height="12.22" fill="#c6d9f5"/>
<rect x="202.08" y="418.17" width="7.28" height="12.22" fill="#c6d9f5"/>
<rect x="209.31" y="418.17" width="7.28" height="12.22" fill="#c6ceec"/>
<rect x="216.54" y="418.17" width="7.28" height="12.22" fill="#c6d9f5"/>
<rect x="223.78" y="418.17" width="7.28" height="12.22" fill="#c6d9f5"/>
<rect x="231.01" y="418.17" width="7.28" height="12.22" fill="#c6d9f5"/>
<rect x="238.25" y="418.17" width="7.28" height="12.22" fill="#c6d9f5"/>
<rect x="245.48" y="418.17" width="7.28" height="12.22" fill="#c6d9f5"/>
<rect x="252.71" y="418.17" width="7.28" height="12.22" fill="#c6d9f5"/>
<rect x="259.95" y="418.17" width="7.28" height="12.22" fill="#c6d9f5"/>
<rect x="267.18" y="418.17" width="7.28" height="12.22" fill="#c6d9f5"/>
<rect x="274.42" y="418.17" width="7.28" height="12.22" fill="#c6d9f5"/>
<rect x="281.65" y="418.17" width="7.28" height="12.22" fill="#c6d9f5"/>
<rect x="288.88" y="418.17" width="7.28" height="12.22" fill="#c7cbe9"/>
<rect x="296.12" y="418.17" width="7.28" height="12.22" fill="#c6d9f5"/>
<rect x="303.35" y="418.17" width="7.28" height="12.22" fill="#c6d9f5"/>
<rect x="310.59" y="418.17" width="7.28" height="12.22" fill="#c6d9f5"/>
<rect x="317.82" y="418.17" width="7.28" height="12.22" fill="#c6d9f5"/>
<rect x="325.05" y="418.17" width="7.28" height="12.22" fill="#c6d9f5"/>
<rect x="332.29" y="418.17" width="7.28" height="12.22" fill="#c6d9f5"/>
<rect x="339.52" y="418.17" width="7.28" height="12.22" fill="#c6d9f5"/>
<rect x="346.76" y="418.17" width="7.28" height="12.22" fill="#c6d9f5"/>
<rect x="353.99" y="418.17" width="7.28" height="12.22" fill="#c6d9f5"/>
<rect x="361.22" y="418.17" width="7.28" height="12.22" fill="#c6d9f5"/>
<rect x="368.46" y="418.17" width="7.28" height="12.22" fill="#c6d9f5"/>
<rect x="375.69" y="418.17" width="7.28" height="12.22" fill="#c6d9f5"/>
<rect x="382.93" y="418.17" width="7.28" height="12.22" fill="#c6d9f5"/>
<rect x="390.16" y="418.17" width="7.28" height="12.22" fill="#c6d9f5"/>
<rect x="397.39" y="418.17" width="7.28" height="12.22" fill="#c6d9f5"/>
<rect x="404.63" y="418.17" width="7.28" height="12.22" fill="#c6d9f5"/>
<rect x="411.86" y="418.17" width="7.28" height="12.22" fill="#c6ceec"/>
<rect x="419.10" y="418.17" width="7.28" height="12.22" fill="#c6d9f5"/>
<rect x="426.33" y="418.17" width="7.28" height="12.22" fill="#c6d9f5"/>
<rect x="433.56" y="418.17" width="7.28" height="12.22" fill="#c6d9f5"/>
<rect x="100.80" y="430.34" width="7.28" height="12.22" fill="#c6d9f5"/>
<rect x="108.03" y="430.34" width="7.28" height="12.22" fill="#c6d9f5"/>
<rect x="115.27" y="430.34" width="7.28" height="12.22" fill="#e5050b"/>
<rect x="122.50" y="430.34" width="7.28" height="12.22" fill="#c6d9f5"/>
<rect x="129.74" y="430.34" width="7.28" height="12.22" fill="#c6d9f5"/>
<rect x="136.97" y="430.34" width="7.28" height="12.22" fill="#c7cbe9"/>
<rect x="144.20" y="430.34" width="7.28" height="12.22" fill="#c6d9f5"/>
<rect x="151.44" y="430.34" width="7.28" height="12.22" fill="#c6d1ef"/>
<rect x="158.67" y="430.34" width="7.28" height="12.22" fill="#c6d9f5"/>
<rect x="165.91" y="430.34" width="7.28" height="12.22" fill="#c6d9f5"/>
<rect x="173.14" y="430.34" width="7.28" height="12.22" fill="#c6d9f5"/>
<rect x="180.37" y="430.34" width="7.28" height="12.22" fill="#c6d9f5"/>
<rect x="187.61" y="430.34" width="7.28" height="12.22" fill="#c6d9f5"/>
<rect x="194.84" y="430.34" width="7.28" height="12.22" fill="#c6d9f5"/>
<rect x="202.08" y="430.34" width="7.28" height="12.22" fill="#c6d9f5"/>
<rect x="209.31" y="430.34" width="7.28" height="12.22" fill="#c6ceec"/>
<rect x="216.54" y="430.34" width="7.28" height="12.22" fill="#c6d9f5"/>
<rect x="223.78" y="430.34" width="7.28" height="12.22" fill="#c6d9f5"/>
<rect x="231.01" y="430.34" width="7.28" height="12.22" fill="#c6d9f5"/>
<rect x="238.25" y="430.34" width="7.28" height="12.22" fill="#c6d9f5"/>
<rect x="245.48" y="430.34" width="7.28" height="12.22" fill="#c6d9f5"/>
<rect x="252.71" y="430.34" width="7.28" height="12.22" fill="#c6d9f5"/>
<rect x="259.95" y="430.34" width="7.28" height="12.22" fill="#c6d9f5"/>
<rect x="267.18" y="430.34" width="7.28" height="12.22" fill="#c6d9f5"/>
<rect x="274.42" y="430.34" width="7.28" height="12.22" fill="#c6d9f5"/>
<rect x="281.65" y="430.34" width="7.28" height="12.22" fill="#c6d9f5"/>
<rect x="288.88" y="430.34" width="7.28" height="12.22" fill="#c6d9f5"/>
<rect x="296.12" y="430.34" width="7.28" height="12.22" fill="#c6d9f5"/>
<rect x="303.35" y="430.34" width="7.28" height="12.22" fill="#c6d9f5"/>
<rect x="310.59" y="430.34" width="7.28" height="12.22" fill="#c6d9f5"/>
<rect x="317.82" y="430.34" width="7.28" height="12.22" fill="#c6d9f5"/>
<rect x="325.05" y="430.34" width="7.28" height="12.22" fill="#c6d9f5"/>
<rect x="332.29" y="430.34" width="7.28" height="12.22" fill="#c6d3f0"/>
<rect x="339.52" y="430.34" width="7.28" height="12.22" fill="#c6d9f5"/>
<rect x="346.76" y="430.34" width="7.28" height="12.22" fill="#c6d9f5"/>
<rect x="353.99" y="430.34" width="7.28" height="12.22" fill="#c6d9f5"/>
<rect x="361.22" y="430.34" width="7.28" height="12.22" fill="#c6d9f5"/>
<rect x="368.46" y="430.34" width="7.28" height="12.22" fill="#c6d9f5"/>
<rect x="375.69" y="430.34" width="7.28" height="12.22" fill="#c6d9f5"/>
<rect x="382.93" y="430.34" width="7.28" height="12.22" fill="#c6d9f5"/>
<rect x="390.16" y="430.34" width="7.28" height="12.22" fill="#c6d9f5"/>
<rect x="397.39" y="430.34" width="7.28" height="12.22" fill="#c6d9f5"/>
<rect x="404.63" y="430.34" width="7.28" height="12.22" fill="#c6d9f5"/>
<rect x="411.86" y="430.34" width="7.28" height="12.22" fill="#c6ceec"/>
<rect x="419.10" y="430.34" width="7.28" height="12.22" fill="#c6ceec"/>
<rect x="426.33" y="430.34" width="7.28" height="12.22" fill="#c6d9f5"/>
<rect x="433.56" y="430.34" width="7.28" height="12.22" fill="#c6d9f5"/>
<rect x="100.80" y="442.51" width="7.28" height="12.22" fill="#c6d9f5"/>
<rect x="108.03" y="442.51" width="7.28" height="12.22" fill="#c6d9f5"/>
<rect x="115.27" y="442.51" width="7.28" height="12.22" fill="#e5050b"/>
<rect x="122.50" y="442.51" width="7.28" height="12.22" fill="#c6d9f5"/>
<rect x="129.74" y="442.51" width="7.28" height="12.22" fill="#c6d9f5"/>
<rect x="136.97" y="442.51" width="7.28" height="12.22" fill="#c7cbe9"/>
<rect x="144.20" y="442.51" width="7.28" height="12.22" fill="#c6d9f5"/>
<rect x="151.44" y="442.51" width="7.28" height="12.22" fill="#c6d9f5"/>
<rect x="158.67" y="442.51" width="7.28" height="12.22" fill="#c6d9f5"/>
<rect x="165.91" y="442.51" width="7.28" height="12.22" fill="#c6d9f5"/>
<rect x="173.14" y="442.51" width="7.28" height="12.22" fill="#c6d9f5"/>
<rect x="180.37" y="442.51" width="7.28" height="12.22" fill="#c6d9f5"/>
<rect x="187.61" y="442.51" width="7.28" height="12.22" fill="#c6d9f5"/>
<rect x="194.84" y="442.51" width="7.28" height="12.22" fill="#c6d9f5"/>
<rect x="202.08" y="442.51" width="7.28" height="12.22" fill="#c6d9f5"/>
<rect x="209.31" y="442.51" width="7.28" height="12.22" fill="#c6ceec"/>
<rect x="216.54" y="442.51" width="7.28" height="12.22" fill="#c6d9f5"/>
<rect x="223.78" y="442.51" width="7.28" height="12.22" fill="#c6d9f5"/>
<rect x="231.01" y="442.51" width="7.28" height="12.22" fill="#c6d9f5"/>
<rect x="238.25" y="442.51" width="7.28" height="12.22" fill="#c6d9f5"/>
<rect x="245.48" y="442.51" width="7.28" height="12.22" fill="#c6d9f5"/>
<rect x="252.71" y="442.51" width="7.28" height="12.22" fill="#c6d9f5"/>
<rect x="259.95" y="442.51" width="7.28" height="12.22" fill="#c6d9f5"/>
<rect x="267.18" y="442.51" width="7.28" height="12.22" fill="#c6d9f5"/>
<rect x="274.42" y="442.51" width="7.28" height="12.22" fill="#c6d9f5"/>
<rect x="281.65" y="442.51" width="7.28" height="12.22" fill="#c6d9f5"/>
<rect x="288.88" y="442.51" width="7.28" height="12.22" fill="#c6d9f5"/>
<rect x="296.12" y="442.51" width="7.28" height="12.22" fill="#c6d9f5"/>
<rect x="303.35" y="442.51" width="7.28" height="12.22" fill="#c6d9f5"/>
<rect x="310.59" y="442.51" width="7.28" height="12.22" fill="#c6d9f5"/>
<rect x="317.82" y="442.51" width="7.28" height="12.22" fill="#c6d9f5"/>
<rect x="325.05" y="442.51" width="7.28" height="12.22" fill="#c6d9f5"/>
<rect x="332.29" y="442.51" width="7.28" height="12.22" fill="#c6d3f0"/>
<rect x="339.52" y="442.51" width="7.28" height="12.22" fill="#c6d9f5"/>
<rect x="346.76" y="442.51" width="7.28" height="12.22" fill="#c6d9f5"/>
<rect x="353.99" y="442.51" width="7.28" height="12.22" fill="#c6d9f5"/>
<rect x="361.22" y="442.51" width="7.28" height="12.22" fill="#c6d9f5"/>
<rect x="368.46" y="442.51" width="7.28" height="12.22" fill="#c6d9f5"/>
<rect x="375.69" y="442.51" width="7.28" height="12.22" fill="#c6d9f5"/>
<rect x="382.93" y="442.51" width="7.28" height="12.22" fill="#c6d9f5"/>
<rect x="390.16" y="442.51" width="7.28" height="12.22" fill="#c6d9f5"/>
<rect x="397.39" y="442.51" width="7.28" height="12.22" fill="#c6d9f5"/>
<rect x="404.63" y="442.51" width="7.28" height="12.22" fill="#c6d9f5"/>
<rect x="411.86" y="442.51" width="7.28" height="12.22" fill="#c6ceec"/>
<rect x="419.10" y="442.51" width="7.28" height="12.22" fill="#c6d9f5"/>
<rect x="426.33" y="442.51" width="7.28" height="12.22" fill="#c6d9f5"/>
<rect x="433.56" y="442.51" width="7.28" height="12.22" fill="#c6d9f5"/>
<rect x="100.80" y="454.68" width="7.28" height="12.22" fill="#c6d9f5"/>
<rect x="108.03" y="454.68" width="7.28" height="12.22" fill="#c6d9f5"/>
<rect x="115.27" y="454.68" width="7.28" height="12.22" fill="#dc90aa"/>
<rect x="122.50" y="454.68" width="7.28" height="12.22" fill="#2c0000"/>
<rect x="129.74" y="454.68" width="7.28" height="12.22" fill="#c6d9f5"/>
<rect x="136.97" y="454.68" width="7.28" height="12.22" fill="#ccbada"/>
<rect x="144.20" y="454.68" width="7.28" height="12.22" fill="#c6d9f5"/>
<rect x="151.44" y="454.68" width="7.28" height="12.22" fill="#c6d9f5"/>
<rect x="158.67" y="454.68" width="7.28" height="12.22" fill="#c6d9f5"/>
<rect x="165.91" y="454.68" width="7.28" height="12.22" fill="#c6d9f5"/>
<rect x="173.14" y="454.68" width="7.28" height="12.22" fill="#c6d9f5"/>
<rect x="180.37" y="454.68" width="7.28" height="12.22" fill="#c6d9f5"/>
<rect x="187.61" y="454.68" width="7.28" height="12.22" fill="#c6d9f5"/>
<rect x="194.84" y="454.68" width="7.28" height="12.22" fill="#c6d9f5"/>
<rect x="202.08" y="454.68" width="7.28" height="12.22" fill="#ccbada"/>
<rect x="209.31" y="454.68" width="7.28" height="12.22" fill="#c6d9f5"/>
<rect x="216.54" y="454.68" width="7.28" height="12.22" fill="#c6d9f5"/>
<rect x="223.78" y="454.68" width="7.28" height="12.22" fill="#c6d9f5"/>
<rect x="231.01" y="454.68" width="7.28" height="12.22" fill="#c6d9f5"/>
<rect x="238.25" y="454.68" width="7.28" height="12.22" fill="#c6d9f5"/>
<rect x="245.48" y="454.68" width="7.28" height="12.22" fill="#c6d9f5"/>
<rect x="252.71" y="454.68" width="7.28" height="12.22" fill="#c6d9f5"/>
<rect x="259.95" y="454.68" width="7.28" height="12.22" fill="#c6d9f5"/>
<rect x="267.18" y="454.68" width="7.28" height="12.22" fill="#c6d9f5"/>
<rect x="274.42" y="454.68" width="7.28" height="12.22" fill="#c6d9f5"/>
<rect x="281.65" y="454.68" width="7.28" height="12.22" fill="#c6d9f5"/>
<rect x="288.88" y="454.68" width="7.28" height="12.22" fill="#c6d9f5"/>
<rect x="296.12" y="454.68" width="7.28" height="12.22" fill="#c6d9f5"/>
<rect x="303.35" y="454.68" width="7.28" height="12.22" fill="#c6d9f5"/>
<rect x="310.59" y="454.68" width="7.28" height="12.22" fill="#c6d9f5"/>
<rect x="317.82" y="454.68" width="7.28" height="12.22" fill="#c6d9f5"/>
<rect x="325.05" y="454.68" width="7.28" height="12.22" fill="#c6d9f5"/>
<rect x="332.29" y="454.68" width="7.28" height="12.22" fill="#c6d3f0"/>
<rect x="339.52" y="454.68" width="7.28" height="12.22" fill="#c6d9f5"/>
<rect x="346.76" y="454.68" width="7.28" height="12.22" fill="#d69ebc"/>
<rect x="353.99" y="454.68" width="7.28" height="12.22" fill="#c6d9f5"/>
<rect x="361.22" y="454.68" width="7.28" height="12.22" fill="#e08097"/>
<rect x="368.46" y="454.68" width="7.28" height="12.22" fill="#c6d9f5"/>
<rect x="375.69" y="454.68" width="7.28" height="12.22" fill="#c6d9f5"/>
<rect x="382.93" y="454.68" width="7.28" height="12.22" fill="#c6d9f5"/>
<rect x="390.16" y="454.68" width="7.28" height="12.22" fill="#c6d9f5"/>
<rect x="397.39" y="454.68" width="7.28" height="12.22" fill="#c6d9f5"/>
<rect x="404.63" y="454.68" width="7.28" height="12.22" fill="#c6d9f5"/>
<rect x="411.86" y="454.68" width="7.28" height="12.22" fill="#c6d9f5"/>
<rect x="419.10" y="454.68" width="7.28" height="12.22" fill="#c6d9f5"/>
<rect x="426.33" y="454.68" width="7.28" height="12.22" fill="#c6d9f5"/>
<rect x="433.56" y="454.68" width="7.28" height="12.22" fill="#c6d9f5"/>
<rect x="100.80" y="466.85" width="7.28" height="12.22" fill="#c6d9f5"/>
<rect x="108.03" y="466.85" width="7.28" height="12.22" fill="#c6d1ef"/>
<rect x="115.27" y="466.85" width="7.28" height="12.22" fill="#d69ebc"/>
<rect x="122.50" y="466.85" width="7.28" height="12.22" fill="#2c0000"/>
<rect x="129.74" y="466.85" width="7.28" height="12.22" fill="#c6d9f5"/>
<rect x="136.97" y="466.85" width="7.28" height="12.22" fill="#c8c4e4"/>
<rect x="144.20" y="466.85" width="7.28" height="12.22" fill="#c6d9f5"/>
<rect x="151.44" y="466.85" width="7.28" height="12.22" fill="#c6d9f5"/>
<rect x="158.67" y="466.85" width="7.28" height="12.22" fill="#c6d9f5"/>
<rect x="165.91" y="466.85" width="7.28" height="12.22" fill="#c6d9f5"/>
<rect x="173.14" y="466.85" width="7.28" height="12.22" fill="#c6d9f5"/>
<rect x="180.37" y="466.85" width="7.28" height="12.22" fill="#c6d9f5"/>
<rect x="187.61" y="466.85" width="7.28" height="12.22" fill="#f0f5fb"/>
<rect x="194.84" y="466.85" width="7.28" height="12.22" fill="#c6d9f5"/>
<rect x="202.08" y="466.85" width="7.28" height="12.22" fill="#c6d9f5"/>
<rect x="209.31" y="466.85" width="7.28" height="12.22" fill="#c6d9f5"/>
<rect x="216.54" y="466.85" width="7.28" height="12.22" fill="#c6d9f5"/>
<rect x="223.78" y="466.85" width="7.28" height="12.22" fill="#c6d9f5"/>
<rect x="231.01" y="466.85" width="7.28" height="12.22" fill="#c6d9f5"/>
<rect x="238.25" y="466.85" width="7.28" height="12.22" fill="#c6d9f5"/>
<rect x="245.48" y="466.85" width="7.28" height="12.22" fill="#c6d9f5"/>
<rect x="252.71" y="466.85" width="7.28" height="12.22" fill="#c6d9f5"/>
<rect x="259.95" y="466.85" width="7.28" height="12.22" fill="#c6d9f5"/>
<rect x="267.18" y="466.85" width="7.28" height="12.22" fill="#c6d9f5"/>
<rect x="274.42" y="466.85" width="7.28" height="12.22" fill="#c6d9f5"/>
<rect x="281.65" y="466.85" width="7.28" height="12.22" fill="#c6d9f5"/>
<rect x="288.88" y="466.85" width="7.28" height="12.22" fill="#c6d9f5"/>
<rect x="296.12" y="466.85" width="7.28" height="12.22" fill="#c6d9f5"/>
<rect x="303.35" y="466.85" width="7.28" height="12.22" fill="#c6d9f5"/>
<rect x="310.59" y="466.85" width="7.28" height="12.22" fill="#c6d9f5"/>
<rect x="317.82" y="466.85" width="7.28" height="12.22" fill="#c6d9f5"/>
<rect x="325.05" y="466.85" width="7.28" height="12.22" fill="#c6d9f5"/>
<rect x="332.29" y="466.85" width="7.28" height="12.22" fill="#c6d3f0"/>
<rect x="339.52" y="466.85" width="7.28" height="12.22" fill="#c6d9f5"/>
<rect x="346.76" y="466.85" width="7.28" height="12.22" fill="#c6d9f5"/>
<rect x="353.99" y="466.85" width="7.28" height="12.22" fill="#c6d9f5"/>
<rect x="361.22" y="466.85" width="7.28" height="12.22" fill="#c6d9f5"/>
<rect x="368.46" y="466.85" width="7.28" height="12.22" fill="#c6d9f5"/>
<rect x="375.69" y="466.85" width="7.28" height="12.22" fill="#c6d9f5"/>
<rect x="382.93" y="466.85" width="7.28" height="12.22" fill="#c6d9f5"/>
<rect x="390.16" y="466.85" width="7.28" height="12.22" fill="#c6d9f5"/>
<rect x="397.39" y="466.85" width="7.28" height="12.22" fill="#c6d9f5"/>
<rect x="404.63" y="466.85" width="7.28" height="12.22" fill="#c6d9f5"/>
<rect x="411.86" y="466.85" width="7.28" height="12.22" fill="#c6d9f5"/>
<rect x="419.10" y="466.85" width="7.28" height="12.22" fill="#c6d9f5"/>
<rect x="426.33" y="466.85" width="7.28" height="12.22" fill="#c6d9f5"/>
<rect x="433.56" y="466.85" width="7.28" height="12.22" fill="#c6d9f5"/>
<rect x="100.80" y="479.02" width="7.28" height="12.22" fill="#c6d9f5"/>
<rect x="108.03" y="479.02" width="7.28" height="12.22" fill="#c6d9f5"/>
<rect x="115.27" y="479.02" width="7.28" height="12.22" fill="#c6d9f5"/>
<rect x="122.50" y="479.02" width="7.28" height="12.22" fill="#c6d9f5"/>
<rect x="129.74" y="479.02" width="7.28" height="12.22" fill="#cc0306"/>
<rect x="136.97" y="479.02" width="7.28" height="12.22" fill="#d69ebc"/>
<rect x="144.20" y="479.02" width="7.28" height="12.22" fill="#c6d9f5"/>
<rect x="151.44" y="479.02" width="7.28" height="12.22" fill="#c6d9f5"/>
<rect x="158.67" y="479.02" width="7.28" height="12.22" fill="#c6d9f5"/>
<rect x="165.91" y="479.02" width="7.28" height="12.22" fill="#c6d9f5"/>
<rect x="173.14" y="479.02" width="7.28" height="12.22" fill="#c6d9f5"/>
<rect x="180.37" y="479.02" width="7.28" height="12.22" fill="#c6d9f5"/>
<rect x="187.61" y="479.02" width="7.28" height="12.22" fill="#c6d9f5"/>
<rect x="194.84" y="479.02" width="7.28" height="12.22" fill="#c6d9f5"/>
<rect x="202.08" y="479.02" width="7.28" height="12.22" fill="#c6d9f5"/>
<rect x="209.31" y="479.02" width="7.28" height="12.22" fill="#c6d9f5"/>
<rect x="216.54" y="479.02" width="7.28" height="12.22" fill="#c6ceec"/>
<rect x="223.78" y="479.02" width="7.28" height="12.22" fill="#c6d1ef"/>
<rect x="231.01" y="479.02" width="7.28" height="12.22" fill="#c6d9f5"/>
<rect x="238.25" y="479.02" width="7.28" height="12.22" fill="#c6d9f5"/>
<rect x="245.48" y="479.02" width="7.28" height="12.22" fill="#c6d9f5"/>
<rect x="252.71" y="479.02" width="7.28" height="12.22" fill="#c6d9f5"/>
<rect x="259.95" y="479.02" width="7.28" height="12.22" fill="#c6d9f5"/>
<rect x="267.18" y="479.02" width="7.28" height="12.22" fill="#c6d9f5"/>
<rect x="274.42" y="479.02" width="7.28" height="12.22" fill="#c6d9f5"/>
<rect x="281.65" y="479.02" width="7.28" height="12.22" fill="#c6d9f5"/>
<rect x="288.88" y="479.02" width="7.28" height="12.22" fill="#c6d9f5"/>
<rect x="296.12" y="479.02" width="7.28" height="12.22" fill="#c6d9f5"/>
<rect x="303.35" y="479.02" width="7.28" height="12.22" fill="#c6d9f5"/>
<rect x="310.59" y="479.02" width="7.28" height="12.22" fill="#c6d9f5"/>
<rect x="317.82" y="479.02" width="7.28" height="12.22" fill="#c6d9f5"/>
<rect x="325.05" y="479.02" width="7.28" height="12.22" fill="#c6d9f5"/>
<rect x="332.29" y="479.02" width="7.28" height="12.22" fill="#c6d3f0"/>
<rect x="339.52" y="479.02" width="7.28" height="12.22" fill="#c6d9f5"/>
<rect x="346.76" y="479.02" width="7.28" height="12.22" fill="#c6d9f5"/>
<rect x="353.99" y="479.02" width="7.28" height="12.22" fill="#f0f5fb"/>
<rect x="361.22" y="479.02" width="7.28" height="12.22" fill="#c6d9f5"/>
<rect x="368.46" y="479.02" width="7.28" height="12.22" fill="#c6d9f5"/>
<rect x="375.69" y="479.02" width="7.28" height="12.22" fill="#c6ceec"/>
<rect x="382.93" y="479.02" width="7.28" height="12.22" fill="#c6d9f5"/>
<rect x="390.16" y="479.02" width="7.28" height="12.22" fill="#c6d9f5"/>
<rect x="397.39" y="479.02" width="7.28" height="12.22" fill="#c6d9f5"/>
<rect x="404.63" y="479.02" width="7.28" height="12.22" fill="#c6d9f5"/>
<rect x="411.86" y="479.02" width="7.28" height="12.22" fill="#c6d9f5"/>
<rect x="419.10" y="479.02" width="7.28" height="12.22" fill="#c6d9f5"/>
<rect x="426.33" y="479.02" width="7.28" height="12.22" fill="#c6d9f5"/>
<rect x="433.56" y="479.02" width="7.28" height="12.22" fill="#c6d9f5"/>
<rect x="100.80" y="491.19" width="7.28" height="12.22" fill="#c6d9f5"/>
<rect x="108.03" y="491.19" width="7.28" height="12.22" fill="#c6d9f5"/>
<rect x="115.27" y="491.19" width="7.28" height="12.22" fill="#c6d9f5"/>
<rect x="122.50" y="491.19" width="7.28" height="12.22" fill="#c6d1ef"/>
<rect x="129.74" y="491.19" width="7.28" height="12.22" fill="#ccbada"/>
<rect x="136.97" y="491.19" width="7.28" height="12.22" fill="#0d0000"/>
<rect x="144.20" y="491.19" width="7.28" height="12.22" fill="#c6d9f5"/>
<rect x="151.44" y="491.19" width="7.28" height="12.22" fill="#c6d1ef"/>
<rect x="158.67" y="491.19" width="7.28" height="12.22" fill="#c6d9f5"/>
<rect x="165.91" y="491.19" width="7.28" height="12.22" fill="#c6d9f5"/>
<rect x="173.14" y="491.19" width="7.28" height="12.22" fill="#f0f5fb"/>
<rect x="180.37" y="491.19" width="7.28" height="12.22" fill="#c6d9f5"/>
<rect x="187.61" y="491.19" width="7.28" height="12.22" fill="#c6d9f5"/>
<rect x="194.84" y="491.19" width="7.28" height="12.22" fill="#c6d9f5"/>
<rect x="202.08" y="491.19" width="7.28" height="12.22" fill="#c6d9f5"/>
<rect x="209.31" y="491.19" width="7.28" height="12.22" fill="#c6d9f5"/>
<rect x="216.54" y="491.19" width="7.28" height="12.22" fill="#c6ceec"/>
<rect x="223.78" y="491.19" width="7.28" height="12.22" fill="#c6d1ef"/>
<rect x="231.01" y="491.19" width="7.28" height="12.22" fill="#c6d9f5"/>
<rect x="238.25" y="491.19" width="7.28" height="12.22" fill="#c6d9f5"/>
<rect x="245.48" y="491.19" width="7.28" height="12.22" fill="#c6d9f5"/>
<rect x="252.71" y="491.19" width="7.28" height="12.22" fill="#c6d9f5"/>
<rect x="259.95" y="491.19" width="7.28" height="12.22" fill="#c6d9f5"/>
<rect x="267.18" y="491.19" width="7.28" height="12.22" fill="#c6d9f5"/>
<rect x="274.42" y="491.19" width="7.28" height="12.22" fill="#c6d9f5"/>
<rect x="281.65" y="491.19" width="7.28" height="12.22" fill="#c6d9f5"/>
<rect x="288.88" y="491.19" width="7.28" height="12.22" fill="#c6ceec"/>
<rect x="296.12" y="491.19" width="7.28" height="12.22" fill="#c6d9f5"/>
<rect x="303.35" y="491.19" width="7.28" height="12.22" fill="#c6d9f5"/>
<rect x="310.59" y="491.19" width="7.28" height="12.22" fill="#c6d9f5"/>
<rect x="317.82" y="491.19" width="7.28" height="12.22" fill="#c6d9f5"/>
<rect x="325.05" y="491.19" width="7.28" height="12.22" fill="#c6d9f5"/>
<rect x="332.29" y="491.19" width="7.28" height="12.22" fill="#c6d3f0"/>
<rect x="339.52" y="491.19" width="7.28" height="12.22" fill="#c6d9f5"/>
<rect x="346.76" y="491.19" width="7.28" height="12.22" fill="#c6d9f5"/>
<rect x="353.99" y="491.19" width="7.28" height="12.22" fill="#c6d9f5"/>
<rect x="361.22" y="491.19" width="7.28" height="12.22" fill="#c6d9f5"/>
<rect x="368.46" y="491.19" width="7.28" height="12.22" fill="#c6d9f5"/>
<rect x="375.69" y="491.19" width="7.28" height="12.22" fill="#c6ceec"/>
<rect x="382.93" y="491.19" width="7.28" height="12.22" fill="#c6d9f5"/>
<rect x="390.16" y="491.19" width="7.28" height="12.22" fill="#c6d9f5"/>
<rect x="397.39" y="491.19" width="7.28" height="12.22" fill="#c6d9f5"/>
<rect x="404.63" y="491.19" width="7.28" height="12.22" fill="#c6d9f5"/>
<rect x="411.86" y="491.19" width="7.28" height="12.22" fill="#c6d9f5"/>
<rect x="419.10" y="491.19" width="7.28" height="12.22" fill="#c6d9f5"/>
<rect x="426.33" y="491.19" width="7.28" height="12.22" fill="#c6d9f5"/>
<rect x="433.56" y="491.19" width="7.28" height="12.22" fill="#c6d9f5"/>
<rect x="100.80" y="503.36" width="7.28" height="12.22" fill="#c6d9f5"/>
<rect x="108.03" y="503.36" width="7.28" height="12.22" fill="#c6d9f5"/>
<rect x="115.27" y="503.36" width="7.28" height="12.22" fill="#c6d9f5"/>
<rect x="122.50" y="503.36" width="7.28" height="12.22" fill="#c6d9f5"/>
<rect x="129.74" y="503.36" width="7.28" height="12.22" fill="#c6d1ef"/>
<rect x="136.97" y="503.36" width="7.28" height="12.22" fill="#cc0306"/>
<rect x="144.20" y="503.36" width="7.28" height="12.22" fill="#c6d9f5"/>
<rect x="151.44" y="503.36" width="7.28" height="12.22" fill="#c8c4e4"/>
<rect x="158.67" y="503.36" width="7.28" height="12.22" fill="#c6d9f5"/>
<rect x="165.91" y="503.36" width="7.28" height="12.22" fill="#c6d9f5"/>
<rect x="173.14" y="503.36" width="7.28" height="12.22" fill="#c6d9f5"/>
<rect x="180.37" y="503.36" width="7.28" height="12.22" fill="#c6d9f5"/>
<rect x="187.61" y="503.36" width="7.28" height="12.22" fill="#c6d9f5"/>
<rect x="194.84" y="503.36" width="7.28" height="12.22" fill="#c6d9f5"/>
<rect x="202.08" y="503.36" width="7.28" height="12.22" fill="#f0f5fb"/>
<rect x="209.31" y="503.36" width="7.28" height="12.22" fill="#c6d9f5"/>
<rect x="216.54" y="503.36" width="7.28" height="12.22" fill="#c6ceec"/>
<rect x="223.78" y="503.36" width="7.28" height="12.22" fill="#c6d1ef"/>
<rect x="231.01" y="503.36" width="7.28" height="12.22" fill="#c6d9f5"/>
<rect x="238.25" y="503.36" width="7.28" height="12.22" fill="#c6d9f5"/>
<rect x="245.48" y="503.36" width="7.28" height="12.22" fill="#c6d9f5"/>
<rect x="252.71" y="503.36" width="7.28" height="12.22" fill="#c6d9f5"/>
<rect x="259.95" y="503.36" width="7.28" height="12.22" fill="#c6d9f5"/>
<rect x="267.18" y="503.36" width="7.28" height="12.22" fill="#c6d9f5"/>
<rect x="274.42" y="503.36" width="7.28" height="12.22" fill="#c6d9f5"/>
<rect x="281.65" y="503.36" width="7.28" height="12.22" fill="#c6d9f5"/>
<rect x="288.88" y="503.36" width="7.28" height="12.22" fill="#c6ceec"/>
<rect x="296.12" y="503.36" width="7.28" height="12.22" fill="#c6d9f5"/>
<rect x="303.35" y="503.36" width="7.28" height="12.22" fill="#c6d9f5"/>
<rect x="310.59" y="503.36" width="7.28" height="12.22" fill="#c6d9f5"/>
<rect x="317.82" y="503.36" width="7.28" height="12.22" fill="#c6d9f5"/>
<rect x="325.05" y="503.36" width="7.28" height="12.22" fill="#c6d9f5"/>
<rect x="332.29" y="503.36" width="7.28" height="12.22" fill="#c6d3f0"/>
<rect x="339.52" y="503.36" width="7.28" height="12.22" fill="#c6d9f5"/>
<rect x="346.76" y="503.36" width="7.28" height="12.22" fill="#c6d9f5"/>
<rect x="353.99" y="503.36" width="7.28" height="12.22" fill="#c6d9f5"/>
<rect x="361.22" y="503.36" width="7.28" height="12.22" fill="#c6d9f5"/>
<rect x="368.46" y="503.36" width="7.28" height="12.22" fill="#c6d9f5"/>
<rect x="375.69" y="503.36" width="7.28" height="12.22" fill="#c6ceec"/>
<rect x="382.93" y="503.36" width="7.28" height="12.22" fill="#c6d9f5"/>
<rect x="390.16" y="503.36" width="7.28" height="12.22" fill="#c6d9f5"/>
<rect x="397.39" y="503.36" width="7.28" height="12.22" fill="#c6d9f5"/>
<rect x="404.63" y="503.36" width="7.28" height="12.22" fill="#c6d9f5"/>
<rect x="411.86" y="503.36" width="7.28" height="12.22" fill="#c6d9f5"/>
<rect x="419.10" y="503.36" width="7.28" height="12.22" fill="#c6d9f5"/>
<rect x="426.33" y="503.36" width="7.28" height="12.22" fill="#c6d9f5"/>
<rect x="433.56" y="503.36" width="7.28" height="12.22" fill="#c6d9f5"/>
<rect x="100.80" y="515.53" width="7.28" height="12.22" fill="#c6d9f5"/>
<rect x="108.03" y="515.53" width="7.28" height="12.22" fill="#c6d9f5"/>
<rect x="115.27" y="515.53" width="7.28" height="12.22" fill="#d0b0d0"/>
<rect x="122.50" y="515.53" width="7.28" height="12.22" fill="#c6d9f5"/>
<rect x="129.74" y="515.53" width="7.28" height="12.22" fill="#c6d9f5"/>
<rect x="136.97" y="515.53" width="7.28" height="12.22" fill="#c30204"/>
<rect x="144.20" y="515.53" width="7.28" height="12.22" fill="#c6d9f5"/>
<rect x="151.44" y="515.53" width="7.28" height="12.22" fill="#d0b0d0"/>
<rect x="158.67" y="515.53" width="7.28" height="12.22" fill="#c6d9f5"/>
<rect x="165.91" y="515.53" width="7.28" height="12.22" fill="#c6d9f5"/>
<rect x="173.14" y="515.53" width="7.28" height="12.22" fill="#c6d9f5"/>
<rect x="180.37" y="515.53" width="7.28" height="12.22" fill="#c6d9f5"/>
<rect x="187.61" y="515.53" width="7.28" height="12.22" fill="#c6d9f5"/>
<rect x="194.84" y="515.53" width="7.28" height="12.22" fill="#c6d9f5"/>
<rect x="202.08" y="515.53" width="7.28" height="12.22" fill="#f0f5fb"/>
<rect x="209.31" y="515.53" width="7.28" height="12.22" fill="#c6d9f5"/>
<rect x="216.54" y="515.53" width="7.28" height="12.22" fill="#c6ceec"/>
<rect x="223.78" y="515.53" width="7.28" height="12.22" fill="#c6d1ef"/>
<rect x="231.01" y="515.53" width="7.28" height="12.22" fill="#c6d9f5"/>
<rect x="238.25" y="515.53" width="7.28" height="12.22" fill="#c6d9f5"/>
<rect x="245.48" y="515.53" width="7.28" height="12.22" fill="#c6d9f5"/>
<rect x="252.71" y="515.53" width="7.28" height="12.22" fill="#c6d9f5"/>
<rect x="259.95" y="515.53" width="7.28" height="12.22" fill="#c6d9f5"/>
<rect x="267.18" y="515.53" width="7.28" height="12.22" fill="#c6d9f5"/>
<rect x="274.42" y="515.53" width="7.28" height="12.22" fill="#c6d9f5"/>
<rect x="281.65" y="515.53" width="7.28" height="12.22" fill="#c6d9f5"/>
<rect x="288.88" y="515.53" width="7.28" height="12.22" fill="#c6d0ee"/>
<rect x="296.12" y="515.53" width="7.28" height="12.22" fill="#c6d9f5"/>
<rect x="303.35" y="515.53" width="7.28" height="12.22" fill="#c6d9f5"/>
<rect x="310.59" y="515.53" width="7.28" height="12.22" fill="#c6d9f5"/>
<rect x="317.82" y="515.53" width="7.28" height="12.22" fill="#c6d9f5"/>
<rect x="325.05" y="515.53" width="7.28" height="12.22" fill="#c6d9f5"/>
<rect x="332.29" y="515.53" width="7.28" height="12.22" fill="#c6d3f0"/>
<rect x="339.52" y="515.53" width="7.28" height="12.22" fill="#c6d9f5"/>
<rect x="346.76" y="515.53" width="7.28" height="12.22" fill="#c6d9f5"/>
<rect x="353.99" y="515.53" width="7.28" height="12.22" fill="#f0f5fb"/>
<rect x="361.22" y="515.53" width="7.28" height="12.22" fill="#c6d9f5"/>
<rect x="368.46" y="515.53" width="7.28" height="12.22" fill="#c6d9f5"/>
<rect x="375.69" y="515.53" width="7.28" height="12.22" fill="#c6ceec"/>
<rect x="382.93" y="515.53" width="7.28" height="12.22" fill="#c6d9f5"/>
<rect x="390.16" y="515.53" width="7.28" height="12.22" fill="#c6d9f5"/>
<rect x="397.39" y="515.53" width="7.28" height="12.22" fill="#c6d9f5"/>
<rect x="404.63" y="515.53" width="7.28" height="12.22" fill="#c6d9f5"/>
<rect x="411.86" y="515.53" width="7.28" height="12.22" fill="#c6d9f5"/>
<rect x="419.10" y="515.53" width="7.28" height="12.22" fill="#c6d9f5"/>
<rect x="426.33" y="515.53" width="7.28" height="12.22" fill="#c6d9f5"/>
<rect x="433.56" y="515.53" width="7.28" height="12.22" fill="#c6d9f5"/>
<rect x="100.80" y="527.70" width="7.28" height="12.22" fill="#c6d9f5"/>
<rect x="108.03" y="527.70" width="7.28" height="12.22" fill="#c6d9f5"/>
<rect x="115.27" y="527.70" width="7.28" height="12.22" fill="#d997b3"/>
<rect x="122.50" y="527.70" width="7.28" height="12.22" fill="#c6d9f5"/>
<rect x="129.74" y="527.70" width="7.28" height="12.22" fill="#c6d1ef"/>
<rect x="136.97" y="527.70" width="7.28" height="12.22" fill="#c6d9f5"/>
<rect x="144.20" y="527.70" width="7.28" height="12.22" fill="#a30000"/>
<rect x="151.44" y="527.70" width="7.28" height="12.22" fill="#c6d9f5"/>
<rect x="158.67" y="527.70" width="7.28" height="12.22" fill="#c6d9f5"/>
<rect x="165.91" y="527.70" width="7.28" height="12.22" fill="#c6d9f5"/>
<rect x="173.14" y="527.70" width="7.28" height="12.22" fill="#c6d9f5"/>
<rect x="180.37" y="527.70" width="7.28" height="12.22" fill="#c6d9f5"/>
<rect x="187.61" y="527.70" width="7.28" height="12.22" fill="#c6d9f5"/>
<rect x="194.84" y="527.70" width="7.28" height="12.22" fill="#c6d9f5"/>
<rect x="202.08" y="527.70" width="7.28" height="12.22" fill="#c6d9f5"/>
<rect x="209.31" y="527.70" width="7.28" height="12.22" fill="#c6d9f5"/>
<rect x="216.54" y="527.70" width="7.28" height="12.22" fill="#c6ceec"/>
<rect x="223.78" y="527.70" width="7.28" height="12.22" fill="#c6d1ef"/>
<rect x="231.01" y="527.70" width="7.28" height="12.22" fill="#c6d9f5"/>
<rect x="238.25" y="527.70" width="7.28" height="12.22" fill="#c6d9f5"/>
<rect x="245.48" y="527.70" width="7.28" height="12.22" fill="#c6d9f5"/>
<rect x="252.71" y="527.70" width="7.28" height="12.22" fill="#c6d9f5"/>
<rect x="259.95" y="527.70" width="7.28" height="12.22" fill="#c7cbe9"/>
<rect x="267.18" y="527.70" width="7.28" height="12.22" fill="#c6d9f5"/>
<rect x="274.42" y="527.70" width="7.28" height="12.22" fill="#c6d9f5"/>
<rect x="281.65" y="527.70" width="7.28" height="12.22" fill="#c6d9f5"/>
<rect x="288.88" y="527.70" width="7.28" height="12.22" fill="#c6d0ee"/>
<rect x="296.12" y="527.70" width="7.28" height="12.22" fill="#c6d9f5"/>
<rect x="303.35" y="527.70" width="7.28" height="12.22" fill="#c6d9f5"/>
<rect x="310.59" y="527.70" width="7.28" height="12.22" fill="#c6d9f5"/>
<rect x="317.82" y="527.70" width="7.28" height="12.22" fill="#c6d9f5"/>
<rect x="325.05" y="527.70" width="7.28" height="12.22" fill="#c6d9f5"/>
<rect x="332.29" y="527.70" width="7.28" height="12.22" fill="#c6d9f5"/>
<rect x="339.52" y="527.70" width="7.28" height="12.22" fill="#c6d9f5"/>
<rect x="346.76" y="527.70" width="7.28" height="12.22" fill="#c6d9f5"/>
<rect x="353.99" y="527.70" width="7.28" height="12.22" fill="#c6d9f5"/>
<rect x="361.22" y="527.70" width="7.28" height="12.22" fill="#c6d9f5"/>
<rect x="368.46" y="527.70" width="7.28" height="12.22" fill="#c6d9f5"/>
<rect x="375.69" y="527.70" width="7.28" height="12.22" fill="#c6d9f5"/>
<rect x="382.93" y="527.70" width="7.28" height="12.22" fill="#c6d9f5"/>
<rect x="390.16" y="527.70" width="7.28" height="12.22" fill="#c6d9f5"/>
<rect x="397.39" y="527.70" width="7.28" height="12.22" fill="#c6d9f5"/>
<rect x="404.63" y="527.70" width="7.28" height="12.22" fill="#c6d9f5"/>
<rect x="411.86" y="527.70" width="7.28" height="12.22" fill="#c6d9f5"/>
<rect x="419.10" y="527.70" width="7.28" height="12.22" fill="#c6d9f5"/>
<rect x="426.33" y="527.70" width="7.28" height="12.22" fill="#c6d9f5"/>
<rect x="433.56" y="527.70" width="7.28" height="12.22" fill="#c6d9f5"/>
<rect x="100.80" y="539.87" width="7.28" height="12.22" fill="#f3252c"/>
<rect x="108.03" y="539.87" width="7.28" height="12.22" fill="#c6d9f5"/>
<rect x="115.27" y="539.87" width="7.28" height="12.22" fill="#de88a0"/>
<rect x="122.50" y="539.87" width="7.28" height="12.22" fill="#c6d9f5"/>
<rect x="129.74" y="539.87" width="7.28" height="12.22" fill="#c6d1ef"/>
<rect x="136.97" y="539.87" width="7.28" height="12.22" fill="#ccbada"/>
<rect x="144.20" y="539.87" width="7.28" height="12.22" fill="#a30000"/>
<rect x="151.44" y="539.87" width="7.28" height="12.22" fill="#c8c4e4"/>
<rect x="158.67" y="539.87" width="7.28" height="12.22" fill="#c6d9f5"/>
<rect x="165.91" y="539.87" width="7.28" height="12.22" fill="#c6d9f5"/>
<rect x="173.14" y="539.87" width="7.28" height="12.22" fill="#c6d9f5"/>
<rect x="180.37" y="539.87" width="7.28" height="12.22" fill="#c6d9f5"/>
<rect x="187.61" y="539.87" width="7.28" height="12.22" fill="#c6d9f5"/>
<rect x="194.84" y="539.87" width="7.28" height="12.22" fill="#c6d9f5"/>
<rect x="202.08" y="539.87" width="7.28" height="12.22" fill="#c6d9f5"/>
<rect x="209.31" y="539.87" width="7.28" height="12.22" fill="#c6d9f5"/>
<rect x="216.54" y="539.87" width="7.28" height="12.22" fill="#c6ceec"/>
<rect x="223.78" y="539.87" width="7.28" height="12.22" fill="#c6d1ef"/>
<rect x="231.01" y="539.87" width="7.28" height="12.22" fill="#c6d9f5"/>
<rect x="238.25" y="539.87" width="7.28" height="12.22" fill="#c6d9f5"/>
<rect x="245.48" y="539.87" width="7.28" height="12.22" fill="#c6d9f5"/>
<rect x="252.71" y="539.87" width="7.28" height="12.22" fill="#c6d9f5"/>
<rect x="259.95" y="539.87" width="7.28" height="12.22" fill="#c6d9f5"/>
<rect x="267.18" y="539.87" width="7.28" height="12.22" fill="#c6d9f5"/>
<rect x="274.42" y="539.87" width="7.28" height="12.22" fill="#c6d3f0"/>
<rect x="281.65" y="539.87" width="7.28" height="12.22" fill="#c6d9f5"/>
<rect x="288.88" y="539.87" width="7.28" height="12.22" fill="#c6d0ee"/>
<rect x="296.12" y="539.87" width="7.28" height="12.22" fill="#c6d9f5"/>
<rect x="303.35" y="539.87" width="7.28" height="12.22" fill="#c6d9f5"/>
<rect x="310.59" y="539.87" width="7.28" height="12.22" fill="#c6d9f5"/>
<rect x="317.82" y="539.87" width="7.28" height="12.22" fill="#c6d9f5"/>
<rect x="325.05" y="539.87" width="7.28" height="12.22" fill="#c6d9f5"/>
<rect x="332.29" y="539.87" width="7.28" height="12.22" fill="#c6d9f5"/>
<rect x="339.52" y="539.87" width="7.28" height="12.22" fill="#c6d9f5"/>
<rect x="346.76" y="539.87" width="7.28" height="12.22" fill="#c6d9f5"/>
<rect x="353.99" y="539.87" width="7.28" height="12.22" fill="#c6d9f5"/>
<rect x="361.22" y="539.87" width="7.28" height="12.22" fill="#c6d9f5"/>
<rect x="368.46" y="539.87" width="7.28" height="12.22" fill="#c6d9f5"/>
<rect x="375.69" y="539.87" width="7.28" height="12.22" fill="#c6d9f5"/>
<rect x="382.93" y="539.87" width="7.28" height="12.22" fill="#c6d9f5"/>
<rect x="390.16" y="539.87" width="7.28" height="12.22" fill="#c6d9f5"/>
<rect x="397.39" y="539.87" width="7.28" height="12.22" fill="#c6d9f5"/>
<rect x="404.63" y="539.87" width="7.28" height="12.22" fill="#c6d9f5"/>
<rect x="411.86" y="539.87" width="7.28" height="12.22" fill="#c6d9f5"/>
<rect x="419.10" y="539.87" width="7.28" height="12.22" fill="#c6d9f5"/>
<rect x="426.33" y="539.87" width="7.28" height="12.22" fill="#c6d9f5"/>
<rect x="433.56" y="539.87" width="7.28" height="12.22" fill="#c6d9f5"/>
<rect x="100.80" y="552.04" width="7.28" height="12.22" fill="#c6d9f5"/>
<rect x="108.03" y="552.04" width="7.28" height="12.22" fill="#c6d9f5"/>
<rect x="115.27" y="552.04" width="7.28" height="12.22" fill="#d69ebc"/>
<rect x="122.50" y="552.04" width="7.28" height="12.22" fill="#c6d9f5"/>
<rect x="129.74" y="552.04" width="7.28" height="12.22" fill="#ccbada"/>
<rect x="136.97" y="552.04" width="7.28" height="12.22" fill="#d0b0d0"/>
<rect x="144.20" y="552.04" width="7.28" height="12.22" fill="#c6d9f5"/>
<rect x="151.44" y="552.04" width="7.28" height="12.22" fill="#e1050a"/>
<rect x="158.67" y="552.04" width="7.28" height="12.22" fill="#c6d9f5"/>
<rect x="165.91" y="552.04" width="7.28" height="12.22" fill="#c6d9f5"/>
<rect x="173.14" y="552.04" width="7.28" height="12.22" fill="#c6d9f5"/>
<rect x="180.37" y="552.04" width="7.28" height="12.22" fill="#c6d9f5"/>
<rect x="187.61" y="552.04" width="7.28" height="12.22" fill="#c6d9f5"/>
<rect x="194.84" y="552.04" width="7.28" height="12.22" fill="#c6d9f5"/>
<rect x="202.08" y="552.04" width="7.28" height="12.22" fill="#f0f5fb"/>
<rect x="209.31" y="552.04" width="7.28" height="12.22" fill="#c6d9f5"/>
<rect x="216.54" y="552.04" width="7.28" height="12.22" fill="#c6d9f5"/>
<rect x="223.78" y="552.04" width="7.28" height="12.22" fill="#c6d9f5"/>
<rect x="231.01" y="552.04" width="7.28" height="12.22" fill="#c6d9f5"/>
<rect x="238.25" y="552.04" width="7.28" height="12.22" fill="#c6d9f5"/>
<rect x="245.48" y="552.04" width="7.28" height="12.22" fill="#c6d9f5"/>
<rect x="252.71" y="552.04" width="7.28" height="12.22" fill="#c6d9f5"/>
<rect x="259.95" y="552.04" width="7.28" height="12.22" fill="#c6d9f5"/>
<rect x="267.18" y="552.04" width="7.28" height="12.22" fill="#c6d9f5"/>
<rect x="274.42" y="552.04" width="7.28" height="12.22" fill="#c6d3f0"/>
<rect x="281.65" y="552.04" width="7.28" height="12.22" fill="#c6d9f5"/>
<rect x="288.88" y="552.04" width="7.28" height="12.22" fill="#c6d0ee"/>
<rect x="296.12" y="552.04" width="7.28" height="12.22" fill="#c6d9f5"/>
<rect x="303.35" y="552.04" width="7.28" height="12.22" fill="#c6d9f5"/>
<rect x="310.59" y="552.04" width="7.28" height="12.22" fill="#c6d9f5"/>
<rect x="317.82" y="552.04" width="7.28" height="12.22" fill="#c6d9f5"/>
<rect x="325.05" y="552.04" width="7.28" height="12.22" fill="#c6d9f5"/>
<rect x="332.29" y="552.04" width="7.28" height="12.22" fill="#c6d9f5"/>
<rect x="339.52" y="552.04" width="7.28" height="12.22" fill="#c6d9f5"/>
<rect x="346.76" y="552.04" width="7.28" height="12.22" fill="#c6d9f5"/>
<rect x="353.99" y="552.04" width="7.28" height="12.22" fill="#c6d9f5"/>
<rect x="361.22" y="552.04" width="7.28" height="12.22" fill="#c6d9f5"/>
<rect x="368.46" y="552.04" width="7.28" height="12.22" fill="#c6d9f5"/>
<rect x="375.69" y="552.04" width="7.28" height="12.22" fill="#c6d9f5"/>
<rect x="382.93" y="552.04" width="7.28" height="12.22" fill="#c6d9f5"/>
<rect x="390.16" y="552.04" width="7.28" height="12.22" fill="#c6d9f5"/>
<rect x="397.39" y="552.04" width="7.28" height="12.22" fill="#c6d9f5"/>
<rect x="404.63" y="552.04" width="7.28" height="12.22" fill="#c6d9f5"/>
<rect x="411.86" y="552.04" width="7.28" height="12.22" fill="#c6d9f5"/>
<rect x="419.10" y="552.04" width="7.28" height="12.22" fill="#c6d9f5"/>
<rect x="426.33" y="552.04" width="7.28" height="12.22" fill="#c6d9f5"/>
<rect x="433.56" y="552.04" width="7.28" height="12.22" fill="#c6d9f5"/>
<rect x="100.80" y="564.21" width="7.28" height="12.22" fill="#c6d9f5"/>
<rect x="108.03" y="564.21" width="7.28" height="12.22" fill="#c6d9f5"/>
<rect x="115.27" y="564.21" width="7.28" height="12.22" fill="#c8c4e4"/>
<rect x="122.50" y="564.21" width="7.28" height="12.22" fill="#c6d9f5"/>
<rect x="129.74" y="564.21" width="7.28" height="12.22" fill="#c7cbe9"/>
<rect x="136.97" y="564.21" width="7.28" height="12.22" fill="#c6d1ef"/>
<rect x="144.20" y="564.21" width="7.28" height="12.22" fill="#c6d9f5"/>
<rect x="151.44" y="564.21" width="7.28" height="12.22" fill="#e1050a"/>
<rect x="158.67" y="564.21" width="7.28" height="12.22" fill="#c6d9f5"/>
<rect x="165.91" y="564.21" width="7.28" height="12.22" fill="#c6d9f5"/>
<rect x="173.14" y="564.21" width="7.28" height="12.22" fill="#c6d9f5"/>
<rect x="180.37" y="564.21" width="7.28" height="12.22" fill="#c6d9f5"/>
<rect x="187.61" y="564.21" width="7.28" height="12.22" fill="#c6d9f5"/>
<rect x="194.84" y="564.21" width="7.28" height="12.22" fill="#c6d9f5"/>
<rect x="202.08" y="564.21" width="7.28" height="12.22" fill="#c6d9f5"/>
<rect x="209.31" y="564.21" width="7.28" height="12.22" fill="#c6d9f5"/>
<rect x="216.54" y="564.21" width="7.28" height="12.22" fill="#c6d9f5"/>
<rect x="223.78" y="564.21" width="7.28" height="12.22" fill="#c6d9f5"/>
<rect x="231.01" y="564.21" width="7.28" height="12.22" fill="#c6d9f5"/>
<rect x="238.25" y="564.21" width="7.28" height="12.22" fill="#c6d9f5"/>
<rect x="245.48" y="564.21" width="7.28" height="12.22" fill="#c6d9f5"/>
<rect x="252.71" y="564.21" width="7.28" height="12.22" fill="#c6d9f5"/>
<rect x="259.95" y="564.21" width="7.28" height="12.22" fill="#c6d9f5"/>
<rect x="267.18" y="564.21" width="7.28" height="12.22" fill="#c6d9f5"/>
<rect x="274.42" y="564.21" width="7.28" height="12.22" fill="#c6d3f0"/>
<rect x="281.65" y="564.21" width="7.28" height="12.22" fill="#c6d9f5"/>
<rect x="288.88" y="564.21" width="7.28" height="12.22" fill="#c6d0ee"/>
<rect x="296.12" y="564.21" width="7.28" height="12.22" fill="#c6d9f5"/>
<rect x="303.35" y="564.21" width="7.28" height="12.22" fill="#c6d9f5"/>
<rect x="310.59" y="564.21" width="7.28" height="12.22" fill="#c6d9f5"/>
<rect x="317.82" y="564.21" width="7.28" height="12.22" fill="#c6d9f5"/>
<rect x="325.05" y="564.21" width="7.28" height="12.22" fill="#c6d9f5"/>
<rect x="332.29" y="564.21" width="7.28" height="12.22" fill="#c6d9f5"/>
<rect x="339.52" y="564.21" width="7.28" height="12.22" fill="#c6d9f5"/>
<rect x="346.76" y="564.21" width="7.28" height="12.22" fill="#c6d9f5"/>
<rect x="353.99" y="564.21" width="7.28" height="12.22" fill="#c6d9f5"/>
<rect x="361.22" y="564.21" width="7.28" height="12.22" fill="#c6d9f5"/>
<rect x="368.46" y="564.21" width="7.28" height="12.22" fill="#c6d9f5"/>
<rect x="375.69" y="564.21" width="7.28" height="12.22" fill="#c6d9f5"/>
<rect x="382.93" y="564.21" width="7.28" height="12.22" fill="#c6d9f5"/>
<rect x="390.16" y="564.21" width="7.28" height="12.22" fill="#c6d9f5"/>
<rect x="397.39" y="564.21" width="7.28" height="12.22" fill="#c6d9f5"/>
<rect x="404.63" y="564.21" width="7.28" height="12.22" fill="#c6d9f5"/>
<rect x="411.86" y="564.21" width="7.28" height="12.22" fill="#c6d9f5"/>
<rect x="419.10" y="564.21" width="7.28" height="12.22" fill="#c6d9f5"/>
<rect x="426.33" y="564.21" width="7.28" height="12.22" fill="#c6d9f5"/>
<rect x="433.56" y="564.21" width="7.28" height="12.22" fill="#c6d9f5"/>
<rect x="100.80" y="576.38" width="7.28" height="12.22" fill="#c6d9f5"/>
<rect x="108.03" y="576.38" width="7.28" height="12.22" fill="#c6d9f5"/>
<rect x="115.27" y="576.38" width="7.28" height="12.22" fill="#dc90aa"/>
<rect x="122.50" y="576.38" width="7.28" height="12.22" fill="#c6d9f5"/>
<rect x="129.74" y="576.38" width="7.28" height="12.22" fill="#c7cbe9"/>
<rect x="136.97" y="576.38" width="7.28" height="12.22" fill="#c6d9f5"/>
<rect x="144.20" y="576.38" width="7.28" height="12.22" fill="#c6d9f5"/>
<rect x="151.44" y="576.38" width="7.28" height="12.22" fill="#c6d9f5"/>
<rect x="158.67" y="576.38" width="7.28" height="12.22" fill="#2c0000"/>
<rect x="165.91" y="576.38" width="7.28" height="12.22" fill="#c6d9f5"/>
<rect x="173.14" y="576.38" width="7.28" height="12.22" fill="#c6d9f5"/>
<rect x="180.37" y="576.38" width="7.28" height="12.22" fill="#c6d9f5"/>
<rect x="187.61" y="576.38" width="7.28" height="12.22" fill="#c6d9f5"/>
<rect x="194.84" y="576.38" width="7.28" height="12.22" fill="#c6d9f5"/>
<rect x="202.08" y="576.38" width="7.28" height="12.22" fill="#c6d9f5"/>
<rect x="209.31" y="576.38" width="7.28" height="12.22" fill="#c6d9f5"/>
<rect x="216.54" y="576.38" width="7.28" height="12.22" fill="#ccbada"/>
<rect x="223.78" y="576.38" width="7.28" height="12.22" fill="#c6d9f5"/>
<rect x="231.01" y="576.38" width="7.28" height="12.22" fill="#c6d9f5"/>
<rect x="238.25" y="576.38" width="7.28" height="12.22" fill="#c6d9f5"/>
<rect x="245.48" y="576.38" width="7.28" height="12.22" fill="#c6d9f5"/>
<rect x="252.71" y="576.38" width="7.28" height="12.22" fill="#c6d9f5"/>
<rect x="259.95" y="576.38" width="7.28" height="12.22" fill="#c6d9f5"/>
<rect x="267.18" y="576.38" width="7.28" height="12.22" fill="#c6d9f5"/>
<rect x="274.42" y="576.38" width="7.28" height="12.22" fill="#c6d3f0"/>
<rect x="281.65" y="576.38" width="7.28" height="12.22" fill="#c6d9f5"/>
<rect x="288.88" y="576.38" width="7.28" height="12.22" fill="#c6d0ee"/>
<rect x="296.12" y="576.38" width="7.28" height="12.22" fill="#c6d9f5"/>
<rect x="303.35" y="576.38" width="7.28" height="12.22" fill="#c6d9f5"/>
<rect x="310.59" y="576.38" width="7.28" height="12.22" fill="#c6d9f5"/>
<rect x="317.82" y="576.38" width="7.28" height="12.22" fill="#c6d9f5"/>
<rect x="325.05" y="576.38" width="7.28" height="12.22" fill="#c6d9f5"/>
<rect x="332.29" y="576.38" width="7.28" height="12.22" fill="#c6d9f5"/>
<rect x="339.52" y="576.38" width="7.28" height="12.22" fill="#c6d9f5"/>
<rect x="346.76" y="576.38" width="7.28" height="12.22" fill="#c6d9f5"/>
<rect x="353.99" y="576.38" width="7.28" height="12.22" fill="#c6d9f5"/>
<rect x="361.22" y="576.38" width="7.28" height="12.22" fill="#c6d9f5"/>
<rect x="368.46" y="576.38" width="7.28" height="12.22" fill="#c6d9f5"/>
<rect x="375.69" y="576.38" width="7.28" height="12.22" fill="#c6d9f5"/>
<rect x="382.93" y="576.38" width="7.28" height="12.22" fill="#c6d9f5"/>
<rect x="390.16" y="576.38" width="7.28" height="12.22" fill="#c6d9f5"/>
<rect x="397.39" y="576.38" width="7.28" height="12.22" fill="#c6d9f5"/>
<rect x="404.63" y="576.38" width="7.28" height="12.22" fill="#c6d9f5"/>
<rect x="411.86" y="576.38" width="7.28" height="12.22" fill="#c6d9f5"/>
<rect x="419.10" y="576.38" width="7.28" height="12.22" fill="#c6d9f5"/>
<rect x="426.33" y="576.38" width="7.28" height="12.22" fill="#c6d9f5"/>
<rect x="433.56" y="576.38" width="7.28" height="12.22" fill="#c6d9f5"/>
<rect x="100.80" y="588.55" width="7.28" height="12.22" fill="#c6d9f5"/>
<rect x="108.03" y="588.55" width="7.28" height="12.22" fill="#d0b0d0"/>
<rect x="115.27" y="588.55" width="7.28" height="12.22" fill="#d69ebc"/>
<rect x="122.50" y="588.55" width="7.28" height="12.22" fill="#d0b0d0"/>
<rect x="129.74" y="588.55" width="7.28" height="12.22" fill="#d0b0d0"/>
<rect x="136.97" y="588.55" width="7.28" height="12.22" fill="#c7cbe9"/>
<rect x="144.20" y="588.55" width="7.28" height="12.22" fill="#c7cbe9"/>
<rect x="151.44" y="588.55" width="7.28" height="12.22" fill="#c6d9f5"/>
<rect x="158.67" y="588.55" width="7.28" height="12.22" fill="#2c0000"/>
<rect x="165.91" y="588.55" width="7.28" height="12.22" fill="#c6d9f5"/>
<rect x="173.14" y="588.55" width="7.28" height="12.22" fill="#c6d9f5"/>
<rect x="180.37" y="588.55" width="7.28" height="12.22" fill="#c6d9f5"/>
<rect x="187.61" y="588.55" width="7.28" height="12.22" fill="#c6d9f5"/>
<rect x="194.84" y="588.55" width="7.28" height="12.22" fill="#c6d9f5"/>
<rect x="202.08" y="588.55" width="7.28" height="12.22" fill="#c6d9f5"/>
<rect x="209.31" y="588.55" width="7.28" height="12.22" fill="#c6d9f5"/>
<rect x="216.54" y="588.55" width="7.28" height="12.22" fill="#c8c7e7"/>
<rect x="223.78" y="588.55" width="7.28" height="12.22" fill="#c6d9f5"/>
<rect x="231.01" y="588.55" width="7.28" height="12.22" fill="#c6d9f5"/>
<rect x="238.25" y="588.55" width="7.28" height="12.22" fill="#c6d9f5"/>
<rect x="245.48" y="588.55" width="7.28" height="12.22" fill="#c6d9f5"/>
<rect x="252.71" y="588.55" width="7.28" height="12.22" fill="#c6d9f5"/>
<rect x="259.95" y="588.55" width="7.28" height="12.22" fill="#c6d9f5"/>
<rect x="267.18" y="588.55" width="7.28" height="12.22" fill="#c6d9f5"/>
<rect x="274.42" y="588.55" width="7.28" height="12.22" fill="#c6d9f5"/>
<rect x="281.65" y="588.55" width="7.28" height="12.22" fill="#c6d9f5"/>
<rect x="288.88" y="588.55" width="7.28" height="12.22" fill="#c6d0ee"/>
<rect x="296.12" y="588.55" width="7.28" height="12.22" fill="#c6d9f5"/>
<rect x="303.35" y="588.55" width="7.28" height="12.22" fill="#c6d9f5"/>
<rect x="310.59" y="588.55" width="7.28" height="12.22" fill="#c6d9f5"/>
<rect x="317.82" y="588.55" width="7.28" height="12.22" fill="#c6d9f5"/>
<rect x="325.05" y="588.55" width="7.28" height="12.22" fill="#c6d9f5"/>
<rect x="332.29" y="588.55" width="7.28" height="12.22" fill="#c6d9f5"/>
<rect x="339.52" y="588.55" width="7.28" height="12.22" fill="#c6d9f5"/>
<rect x="346.76" y="588.55" width="7.28" height="12.22" fill="#c6d9f5"/>
<rect x="353.99" y="588.55" width="7.28" height="12.22" fill="#c6d9f5"/>
<rect x="361.22" y="588.55" width="7.28" height="12.22" fill="#c6d9f5"/>
<rect x="368.46" y="588.55" width="7.28" height="12.22" fill="#c6d9f5"/>
<rect x="375.69" y="588.55" width="7.28" height="12.22" fill="#c6d9f5"/>
<rect x="382.93" y="588.55" width="7.28" height="12.22" fill="#c6d9f5"/>
<rect x="390.16" y="588.55" width="7.28" height="12.22" fill="#c6d9f5"/>
<rect x="397.39" y="588.55" width="7.28" height="12.22" fill="#c6d9f5"/>
<rect x="404.63" y="588.55" width="7.28" height="12.22" fill="#c6d9f5"/>
<rect x="411.86" y="588.55" width="7.28" height="12.22" fill="#c6d9f5"/>
<rect x="419.10" y="588.55" width="7.28" height="12.22" fill="#c6d9f5"/>
<rect x="426.33" y="588.55" width="7.28" height="12.22" fill="#c6d9f5"/>
<rect x="433.56" y="588.55" width="7.28" height="12.22" fill="#c6d9f5"/>
<rect x="100.80" y="600.72" width="7.28" height="12.22" fill="#c6d9f5"/>
<rect x="108.03" y="600.72" width="7.28" height="12.22" fill="#d0b0d0"/>
<rect x="115.27" y="600.72" width="7.28" height="12.22" fill="#c8c4e4"/>
<rect x="122.50" y="600.72" width="7.28" height="12.22" fill="#c6d1ef"/>
<rect x="129.74" y="600.72" width="7.28" height="12.22" fill="#c6d1ef"/>
<rect x="136.97" y="600.72" width="7.28" height="12.22" fill="#c6d9f5"/>
<rect x="144.20" y="600.72" width="7.28" height="12.22" fill="#c6d9f5"/>
<rect x="151.44" y="600.72" width="7.28" height="12.22" fill="#c6d9f5"/>
<rect x="158.67" y="600.72" width="7.28" height="12.22" fill="#c6d9f5"/>
<rect x="165.91" y="600.72" width="7.28" height="12.22" fill="#e1050a"/>
<rect x="173.14" y="600.72" width="7.28" height="12.22" fill="#ccbada"/>
<rect x="180.37" y="600.72" width="7.28" height="12.22" fill="#c6d9f5"/>
<rect x="187.61" y="600.72" width="7.28" height="12.22" fill="#c6d9f5"/>
<rect x="194.84" y="600.72" width="7.28" height="12.22" fill="#c6d9f5"/>
<rect x="202.08" y="600.72" width="7.28" height="12.22" fill="#c6d9f5"/>
<rect x="209.31" y="600.72" width="7.28" height="12.22" fill="#c6d9f5"/>
<rect x="216.54" y="600.72" width="7.28" height="12.22" fill="#c6d9f5"/>
<rect x="223.78" y="600.72" width="7.28" height="12.22" fill="#c6d9f5"/>
<rect x="231.01" y="600.72" width="7.28" height="12.22" fill="#c6d9f5"/>
<rect x="238.25" y="600.72" width="7.28" height="12.22" fill="#c6d9f5"/>
<rect x="245.48" y="600.72" width="7.28" height="12.22" fill="#c6d9f5"/>
<rect x="252.71" y="600.72" width="7.28" height="12.22" fill="#c6d9f5"/>
<rect x="259.95" y="600.72" width="7.28" height="12.22" fill="#c6d9f5"/>
<rect x="267.18" y="600.72" width="7.28" height="12.22" fill="#c6d9f5"/>
<rect x="274.42" y="600.72" width="7.28" height="12.22" fill="#c6d9f5"/>
<rect x="281.65" y="600.72" width="7.28" height="12.22" fill="#c6d9f5"/>
<rect x="288.88" y="600.72" width="7.28" height="12.22" fill="#c6d0ee"/>
<rect x="296.12" y="600.72" width="7.28" height="12.22" fill="#c6d9f5"/>
<rect x="303.35" y="600.72" width="7.28" height="12.22" fill="#c6d9f5"/>
<rect x="310.59" y="600.72" width="7.28" height="12.22" fill="#c6d9f5"/>
<rect x="317.82" y="600.72" width="7.28" height="12.22" fill="#c6d9f5"/>
<rect x="325.05" y="600.72" width="7.28" height="12.22" fill="#c6d9f5"/>
<rect x="332.29" y="600.72" width="7.28" height="12.22" fill="#c6d9f5"/>
<rect x="339.52" y="600.72" width="7.28" height="12.22" fill="#c6d9f5"/>
<rect x="346.76" y="600.72" width="7.28" height="12.22" fill="#c6d9f5"/>
<rect x="353.99" y="600.72" width="7.28" height="12.22" fill="#c6d9f5"/>
<rect x="361.22" y="600.72" width="7.28" height="12.22" fill="#c6d9f5"/>
<rect x="368.46" y="600.72" width="7.28" height="12.22" fill="#c6d9f5"/>
<rect x="375.69" y="600.72" width="7.28" height="12.22" fill="#c6d9f5"/>
<rect x="382.93" y="600.72" width="7.28" height="12.22" fill="#c6d9f5"/>
<rect x="390.16" y="600.72" width="7.28" height="12.22" fill="#c6d9f5"/>
<rect x="397.39" y="600.72" width="7.28" height="12.22" fill="#c6d9f5"/>
<rect x="404.63" y="600.72" width="7.28" height="12.22" fill="#c6d9f5"/>
<rect x="411.86" y="600.72" width="7.28" height="12.22" fill="#c6d9f5"/>
<rect x="419.10" y="600.72" width="7.28" height="12.22" fill="#c6d9f5"/>
<rect x="426.33" y="600.72" width="7.28" height="12.22" fill="#c6d9f5"/>
<rect x="433.56" y="600.72" width="7.28" height="12.22" fill="#c6d9f5"/>
<rect x="100.80" y="612.89" width="7.28" height="12.22" fill="#c6d9f5"/>
<rect x="108.03" y="612.89" width="7.28" height="12.22" fill="#c6d9f5"/>
<rect x="115.27" y="612.89" width="7.28" height="12.22" fill="#d997b3"/>
<rect x="122.50" y="612.89" width="7.28" height="12.22" fill="#c6d9f5"/>
<rect x="129.74" y="612.89" width="7.28" height="12.22" fill="#c6d9f5"/>
<rect x="136.97" y="612.89" width="7.28" height="12.22" fill="#dc90aa"/>
<rect x="144.20" y="612.89" width="7.28" height="12.22" fill="#c6d9f5"/>
<rect x="151.44" y="612.89" width="7.28" height="12.22" fill="#e1798e"/>
<rect x="158.67" y="612.89" width="7.28" height="12.22" fill="#c6d9f5"/>
<rect x="165.91" y="612.89" width="7.28" height="12.22" fill="#c6d9f5"/>
<rect x="173.14" y="612.89" width="7.28" height="12.22" fill="#370000"/>
<rect x="180.37" y="612.89" width="7.28" height="12.22" fill="#c6d9f5"/>
<rect x="187.61" y="612.89" width="7.28" height="12.22" fill="#c6d9f5"/>
<rect x="194.84" y="612.89" width="7.28" height="12.22" fill="#c6d9f5"/>
<rect x="202.08" y="612.89" width="7.28" height="12.22" fill="#f0f5fb"/>
<rect x="209.31" y="612.89" width="7.28" height="12.22" fill="#c6d9f5"/>
<rect x="216.54" y="612.89" width="7.28" height="12.22" fill="#ccbada"/>
<rect x="223.78" y="612.89" width="7.28" height="12.22" fill="#c6d9f5"/>
<rect x="231.01" y="612.89" width="7.28" height="12.22" fill="#c6d9f5"/>
<rect x="238.25" y="612.89" width="7.28" height="12.22" fill="#c6d9f5"/>
<rect x="245.48" y="612.89" width="7.28" height="12.22" fill="#c6d9f5"/>
<rect x="252.71" y="612.89" width="7.28" height="12.22" fill="#c6d9f5"/>
<rect x="259.95" y="612.89" width="7.28" height="12.22" fill="#c6d9f5"/>
<rect x="267.18" y="612.89" width="7.28" height="12.22" fill="#c6d9f5"/>
<rect x="274.42" y="612.89" width="7.28" height="12.22" fill="#c6d9f5"/>
<rect x="281.65" y="612.89" width="7.28" height="12.22" fill="#c6d9f5"/>
<rect x="288.88" y="612.89" width="7.28" height="12.22" fill="#c6d0ee"/>
<rect x="296.12" y="612.89" width="7.28" height="12.22" fill="#c6d9f5"/>
<rect x="303.35" y="612.89" width="7.28" height="12.22" fill="#c6d9f5"/>
<rect x="310.59" y="612.89" width="7.28" height="12.22" fill="#c6d9f5"/>
<rect x="317.82" y="612.89" width="7.28" height="12.22" fill="#c6d9f5"/>
<rect x="325.05" y="612.89" width="7.28" height="12.22" fill="#c6d9f5"/>
<rect x="332.29" y="612.89" width="7.28" height="12.22" fill="#c6d9f5"/>
<rect x="339.52" y="612.89" width="7.28" height="12.22" fill="#c6d1ef"/>
<rect x="346.76" y="612.89" width="7.28" height="12.22" fill="#c6d9f5"/>
<rect x="353.99" y="612.89" width="7.28" height="12.22" fill="#c6d9f5"/>
<rect x="361.22" y="612.89" width="7.28" height="12.22" fill="#c6d9f5"/>
<rect x="368.46" y="612.89" width="7.28" height="12.22" fill="#c6d9f5"/>
<rect x="375.69" y="612.89" width="7.28" height="12.22" fill="#c6d9f5"/>
<rect x="382.93" y="612.89" width="7.28" height="12.22" fill="#c6d9f5"/>
<rect x="390.16" y="612.89" width="7.28" height="12.22" fill="#c6d9f5"/>
<rect x="397.39" y="612.89" width="7.28" height="12.22" fill="#c6d9f5"/>
<rect x="404.63" y="612.89" width="7.28" height="12.22" fill="#c6d9f5"/>
<rect x="411.86" y="612.89" width="7.28" height="12.22" fill="#c6d9f5"/>
<rect x="419.10" y="612.89" width="7.28" height="12.22" fill="#c6d9f5"/>
<rect x="426.33" y="612.89" width="7.28" height="12.22" fill="#c6d9f5"/>
<rect x="433.56" y="612.89" width="7.28" height="12.22" fill="#c6d9f5"/>
<rect x="100.80" y="625.06" width="7.28" height="12.22" fill="#d69ebc"/>
<rect x="108.03" y="625.06" width="7.28" height="12.22" fill="#c6d9f5"/>
<rect x="115.27" y="625.06" width="7.28" height="12.22" fill="#ee3a46"/>
<rect x="122.50" y="625.06" width="7.28" height="12.22" fill="#ee3a46"/>
<rect x="129.74" y="625.06" width="7.28" height="12.22" fill="#ee3a46"/>
<rect x="136.97" y="625.06" width="7.28" height="12.22" fill="#c6d9f5"/>
<rect x="144.20" y="625.06" width="7.28" height="12.22" fill="#c6d9f5"/>
<rect x="151.44" y="625.06" width="7.28" height="12.22" fill="#ea4e5d"/>
<rect x="158.67" y="625.06" width="7.28" height="12.22" fill="#c6d9f5"/>
<rect x="165.91" y="625.06" width="7.28" height="12.22" fill="#c6d9f5"/>
<rect x="173.14" y="625.06" width="7.28" height="12.22" fill="#c8c4e4"/>
<rect x="180.37" y="625.06" width="7.28" height="12.22" fill="#c6d9f5"/>
<rect x="187.61" y="625.06" width="7.28" height="12.22" fill="#c6d9f5"/>
<rect x="194.84" y="625.06" width="7.28" height="12.22" fill="#c6d9f5"/>
<rect x="202.08" y="625.06" width="7.28" height="12.22" fill="#c6d9f5"/>
<rect x="209.31" y="625.06" width="7.28" height="12.22" fill="#c6d9f5"/>
<rect x="216.54" y="625.06" width="7.28" height="12.22" fill="#c8c7e7"/>
<rect x="223.78" y="625.06" width="7.28" height="12.22" fill="#c6d9f5"/>
<rect x="231.01" y="625.06" width="7.28" height="12.22" fill="#c7cbe9"/>
<rect x="238.25" y="625.06" width="7.28" height="12.22" fill="#c6d9f5"/>
<rect x="245.48" y="625.06" width="7.28" height="12.22" fill="#c6d9f5"/>
<rect x="252.71" y="625.06" width="7.28" height="12.22" fill="#c6d9f5"/>
<rect x="259.95" y="625.06" width="7.28" height="12.22" fill="#c6d9f5"/>
<rect x="267.18" y="625.06" width="7.28" height="12.22" fill="#c6d9f5"/>
<rect x="274.42" y="625.06" width="7.28" height="12.22" fill="#c6d9f5"/>
<rect x="281.65" y="625.06" width="7.28" height="12.22" fill="#c6d9f5"/>
<rect x="288.88" y="625.06" width="7.28" height="12.22" fill="#c6d9f5"/>
<rect x="296.12" y="625.06" width="7.28" height="12.22" fill="#c6d9f5"/>
<rect x="303.35" y="625.06" width="7.28" height="12.22" fill="#c6d9f5"/>
<rect x="310.59" y="625.06" width="7.28" height="12.22" fill="#c6d9f5"/>
<rect x="317.82" y="625.06" width="7.28" height="12.22" fill="#c6d9f5"/>
<rect x="325.05" y="625.06" width="7.28" height="12.22" fill="#c6d9f5"/>
<rect x="332.29" y="625.06" width="7.28" height="12.22" fill="#c6d3f0"/>
<rect x="339.52" y="625.06" width="7.28" height="12.22" fill="#c6d1ef"/>
<rect x="346.76" y="625.06" width="7.28" height="12.22" fill="#c6d9f5"/>
<rect x="353.99" y="625.06" width="7.28" height="12.22" fill="#c6d9f5"/>
<rect x="361.22" y="625.06" width="7.28" height="12.22" fill="#c6d9f5"/>
<rect x="368.46" y="625.06" width="7.28" height="12.22" fill="#c6d9f5"/>
<rect x="375.69" y="625.06" width="7.28" height="12.22" fill="#c6d9f5"/>
<rect x="382.93" y="625.06" width="7.28" height="12.22" fill="#c6d9f5"/>
<rect x="390.16" y="625.06" width="7.28" height="12.22" fill="#c6d9f5"/>
<rect x="397.39" y="625.06" width="7.28" height="12.22" fill="#c6d9f5"/>
<rect x="404.63" y="625.06" width="7.28" height="12.22" fill="#c6d9f5"/>
<rect x="411.86" y="625.06" width="7.28" height="12.22" fill="#c6d9f5"/>
<rect x="419.10" y="625.06" width="7.28" height="12.22" fill="#c6d9f5"/>
<rect x="426.33" y="625.06" width="7.28" height="12.22" fill="#c6d9f5"/>
<rect x="433.56" y="625.06" width="7.28" height="12.22" fill="#c6d9f5"/>
<path d="M100.80 418.17H440.80M100.80 430.34H440.80M100.80 442.51H440.80M100.80 454.68H440.80M100.80 466.85H440.80M100.80 479.02H440.80M100.80 491.19H440.80M100.80 503.36H440.80M100.80 515.53H440.80M100.80 527.70H440.80M100.80 539.87H440.80M100.80 552.04H440.80M100.80 564.21H440.80M100.80 576.38H440.80M100.80 588.55H440.80M100.80 600.72H440.80M100.80 612.89H440.80M100.80 625.06H440.80" stroke="#3e5078" stroke-width="1.0" stroke-dasharray="1.2,1.2" fill="none" opacity="0.8"/>
<path d="M108.03 406.00V637.23M115.27 406.00V637.23M122.50 406.00V637.23M129.74 406.00V637.23M136.97 406.00V637.23M144.20 406.00V637.23M151.44 406.00V637.23M158.67 406.00V637.23M165.91 406.00V637.23M173.14 406.00V637.23M180.37 406.00V637.23M187.61 406.00V637.23M194.84 406.00V637.23M202.08 406.00V637.23M209.31 406.00V637.23M216.54 406.00V637.23M223.78 406.00V637.23M231.01 406.00V637.23M238.25 406.00V637.23M245.48 406.00V637.23M252.71 406.00V637.23M259.95 406.00V637.23M267.18 406.00V637.23M274.42 406.00V637.23M281.65 406.00V637.23M288.88 406.00V637.23M296.12 406.00V637.23M303.35 406.00V637.23M310.59 406.00V637.23M317.82 406.00V637.23M325.05 406.00V637.23M332.29 406.00V637.23M339.52 406.00V637.23M346.76 406.00V637.23M353.99 406.00V637.23M361.22 406.00V637.23M368.46 406.00V637.23M375.69 406.00V637.23M382.93 406.00V637.23M390.16 406.00V637.23M397.39 406.00V637.23M404.63 406.00V637.23M411.86 406.00V637.23M419.10 406.00V637.23M426.33 406.00V637.23M433.56 406.00V637.23" stroke="#4a5c86" stroke-width="0.85" stroke-dasharray="1.0,1.5" fill="none" opacity="0.62"/>
<path d="M102.42 410.08L106.42 414.08M106.42 410.08L102.42 414.08" stroke="#f6ccb4" stroke-width="1.05"/>
<path d="M109.65 422.25L113.65 426.25M113.65 422.25L109.65 426.25" stroke="#f6ccb4" stroke-width="1.05"/>
<path d="M116.88 434.43L120.88 438.43M120.88 434.43L116.88 438.43" stroke="#f6ccb4" stroke-width="1.05"/>
<path d="M116.88 446.60L120.88 450.60M120.88 446.60L116.88 450.60" stroke="#f6ccb4" stroke-width="1.05"/>
<path d="M124.12 458.76L128.12 462.76M128.12 458.76L124.12 462.76" stroke="#f6ccb4" stroke-width="1.05"/>
<path d="M124.12 470.94L128.12 474.94M128.12 470.94L124.12 474.94" stroke="#f6ccb4" stroke-width="1.05"/>
<path d="M131.35 483.11L135.35 487.11M135.35 483.11L131.35 487.11" stroke="#f6ccb4" stroke-width="1.05"/>
<path d="M138.59 495.27L142.59 499.27M142.59 495.27L138.59 499.27" stroke="#f6ccb4" stroke-width="1.05"/>
<path d="M138.59 507.44L142.59 511.44M142.59 507.44L138.59 511.44" stroke="#f6ccb4" stroke-width="1.05"/>
<path d="M138.59 519.62L142.59 523.62M142.59 519.62L138.59 523.62" stroke="#f6ccb4" stroke-width="1.05"/>
<path d="M145.82 531.78L149.82 535.78M149.82 531.78L145.82 535.78" stroke="#f6ccb4" stroke-width="1.05"/>
<path d="M145.82 543.96L149.82 547.96M149.82 543.96L145.82 547.96" stroke="#f6ccb4" stroke-width="1.05"/>
<path d="M153.06 556.12L157.06 560.12M157.06 556.12L153.06 560.12" stroke="#f6ccb4" stroke-width="1.05"/>
<path d="M153.06 568.29L157.06 572.29M157.06 568.29L153.06 572.29" stroke="#f6ccb4" stroke-width="1.05"/>
<path d="M160.29 580.47L164.29 584.47M164.29 580.47L160.29 584.47" stroke="#f6ccb4" stroke-width="1.05"/>
<path d="M160.29 592.63L164.29 596.63M164.29 592.63L160.29 596.63" stroke="#f6ccb4" stroke-width="1.05"/>
<path d="M167.52 604.81L171.52 608.81M171.52 604.81L167.52 608.81" stroke="#f6ccb4" stroke-width="1.05"/>
<path d="M174.76 616.98L178.76 620.98M178.76 616.98L174.76 620.98" stroke="#f6ccb4" stroke-width="1.05"/>
<path d="M102.42 629.14L106.42 633.14M106.42 629.14L102.42 633.14" stroke="#f6ccb4" stroke-width="1.05"/>
<path d="M116.88 629.14L120.88 633.14M120.88 629.14L116.88 633.14" stroke="#f6ccb4" stroke-width="1.05"/>
<path d="M131.35 629.14L135.35 633.14M135.35 629.14L131.35 633.14" stroke="#f6ccb4" stroke-width="1.05"/>
<line x1="180.37" y1="406.00" x2="180.37" y2="637.23" stroke="#1a2a40" stroke-width="1.1"/>
<line x1="259.95" y1="406.00" x2="259.95" y2="637.23" stroke="#1a2a40" stroke-width="1.1"/>
<line x1="303.35" y1="406.00" x2="303.35" y2="637.23" stroke="#1a2a40" stroke-width="1.1"/>
<line x1="346.76" y1="406.00" x2="346.76" y2="637.23" stroke="#1a2a40" stroke-width="1.1"/>
<line x1="390.16" y1="406.00" x2="390.16" y2="637.23" stroke="#1a2a40" stroke-width="1.1"/>
<rect x="100.80" y="406.00" width="340.00" height="231.23" fill="none" stroke="#2a3a55" stroke-width="1.1"/>
<line x1="98.30" y1="412.08" x2="100.80" y2="412.08" stroke="#222" stroke-width="0.9"/>
<text x="94.80" y="415.48" font-size="7.45" text-anchor="end" font-weight="normal" fill="#2a2a2a" font-family='"Liberation Mono", monospace' stroke="#2a2a2a" stroke-width="0.3">ALRMPTMKTFIP</text>
<line x1="98.30" y1="424.25" x2="100.80" y2="424.25" stroke="#222" stroke-width="0.9"/>
<text x="94.80" y="427.65" font-size="7.45" text-anchor="end" font-weight="normal" fill="#2a2a2a" font-family='"Liberation Mono", monospace' stroke="#2a2a2a" stroke-width="0.3">QNLTFISLPGNI</text>
<line x1="98.30" y1="436.43" x2="100.80" y2="436.43" stroke="#222" stroke-width="0.9"/>
<text x="94.80" y="439.82" font-size="7.45" text-anchor="end" font-weight="normal" fill="#2a2a2a" font-family='"Liberation Mono", monospace' stroke="#2a2a2a" stroke-width="0.3">YPSLFRPTAFNN</text>
<line x1="98.30" y1="448.60" x2="100.80" y2="448.60" stroke="#222" stroke-width="0.9"/>
<text x="94.80" y="452.00" font-size="7.45" text-anchor="end" font-weight="normal" fill="#2a2a2a" font-family='"Liberation Mono", monospace' stroke="#2a2a2a" stroke-width="0.3">SAMAGASAMSTM</text>
<line x1="98.30" y1="460.76" x2="100.80" y2="460.76" stroke="#222" stroke-width="0.9"/>
<text x="94.80" y="464.16" font-size="7.45" text-anchor="end" font-weight="normal" fill="#2a2a2a" font-family='"Liberation Mono", monospace' stroke="#2a2a2a" stroke-width="0.3">YDRLLYQSTLRY</text>
<line x1="98.30" y1="472.94" x2="100.80" y2="472.94" stroke="#222" stroke-width="0.9"/>
<text x="94.80" y="476.33" font-size="7.45" text-anchor="end" font-weight="normal" fill="#2a2a2a" font-family='"Liberation Mono", monospace' stroke="#2a2a2a" stroke-width="0.3">EGSILYYTSKTW</text>
<line x1="98.30" y1="485.11" x2="100.80" y2="485.11" stroke="#222" stroke-width="0.9"/>
<text x="94.80" y="488.50" font-size="7.45" text-anchor="end" font-weight="normal" fill="#2a2a2a" font-family='"Liberation Mono", monospace' stroke="#2a2a2a" stroke-width="0.3">MFDVRPPGNTFK</text>
<line x1="98.30" y1="497.27" x2="100.80" y2="497.27" stroke="#222" stroke-width="0.9"/>
<text x="94.80" y="500.67" font-size="7.45" text-anchor="end" font-weight="normal" fill="#2a2a2a" font-family='"Liberation Mono", monospace' stroke="#2a2a2a" stroke-width="0.3">SPSTVAGVTLLD</text>
<line x1="98.30" y1="509.44" x2="100.80" y2="509.44" stroke="#222" stroke-width="0.9"/>
<text x="94.80" y="512.85" font-size="7.45" text-anchor="end" font-weight="normal" fill="#2a2a2a" font-family='"Liberation Mono", monospace' stroke="#2a2a2a" stroke-width="0.3">DVNTRRGIDLLK</text>
<line x1="98.30" y1="521.62" x2="100.80" y2="521.62" stroke="#222" stroke-width="0.9"/>
<text x="94.80" y="525.01" font-size="7.45" text-anchor="end" font-weight="normal" fill="#2a2a2a" font-family='"Liberation Mono", monospace' stroke="#2a2a2a" stroke-width="0.3">VLPNTSSGRLLM</text>
<line x1="98.30" y1="533.78" x2="100.80" y2="533.78" stroke="#222" stroke-width="0.9"/>
<text x="94.80" y="537.18" font-size="7.45" text-anchor="end" font-weight="normal" fill="#2a2a2a" font-family='"Liberation Mono", monospace' stroke="#2a2a2a" stroke-width="0.3">NTVDGDDIYLTP</text>
<line x1="98.30" y1="545.96" x2="100.80" y2="545.96" stroke="#222" stroke-width="0.9"/>
<text x="94.80" y="549.36" font-size="7.45" text-anchor="end" font-weight="normal" fill="#2a2a2a" font-family='"Liberation Mono", monospace' stroke="#2a2a2a" stroke-width="0.3">KAIEEPKAMMYL</text>
<line x1="98.30" y1="558.12" x2="100.80" y2="558.12" stroke="#222" stroke-width="0.9"/>
<text x="94.80" y="561.52" font-size="7.45" text-anchor="end" font-weight="normal" fill="#2a2a2a" font-family='"Liberation Mono", monospace' stroke="#2a2a2a" stroke-width="0.3">YRPDEFWSPRKS</text>
<line x1="98.30" y1="570.29" x2="100.80" y2="570.29" stroke="#222" stroke-width="0.9"/>
<text x="94.80" y="573.69" font-size="7.45" text-anchor="end" font-weight="normal" fill="#2a2a2a" font-family='"Liberation Mono", monospace' stroke="#2a2a2a" stroke-width="0.3">QSMHIGSSSVSG</text>
<line x1="98.30" y1="582.47" x2="100.80" y2="582.47" stroke="#222" stroke-width="0.9"/>
<text x="94.80" y="585.87" font-size="7.45" text-anchor="end" font-weight="normal" fill="#2a2a2a" font-family='"Liberation Mono", monospace' stroke="#2a2a2a" stroke-width="0.3">TNSMPPDNAYTE</text>
<line x1="98.30" y1="594.63" x2="100.80" y2="594.63" stroke="#222" stroke-width="0.9"/>
<text x="94.80" y="598.03" font-size="7.45" text-anchor="end" font-weight="normal" fill="#2a2a2a" font-family='"Liberation Mono", monospace' stroke="#2a2a2a" stroke-width="0.3">MGFERNPPRVLS</text>
<line x1="98.30" y1="606.81" x2="100.80" y2="606.81" stroke="#222" stroke-width="0.9"/>
<text x="94.80" y="610.21" font-size="7.45" text-anchor="end" font-weight="normal" fill="#2a2a2a" font-family='"Liberation Mono", monospace' stroke="#2a2a2a" stroke-width="0.3">HGVSFERYNLSL</text>
<line x1="98.30" y1="618.98" x2="100.80" y2="618.98" stroke="#222" stroke-width="0.9"/>
<text x="94.80" y="622.38" font-size="7.45" text-anchor="end" font-weight="normal" fill="#2a2a2a" font-family='"Liberation Mono", monospace' stroke="#2a2a2a" stroke-width="0.3">MVEDDLSSPRYM</text>
<line x1="98.30" y1="631.14" x2="100.80" y2="631.14" stroke="#222" stroke-width="0.9"/>
<text x="94.80" y="634.54" font-size="7.45" text-anchor="end" font-weight="normal" fill="#2a2a2a" font-family='"Liberation Mono", monospace' stroke="#2a2a2a" stroke-width="0.3">THMWVWDVSPEL</text>
<line x1="104.42" y1="637.23" x2="104.42" y2="639.73" stroke="#222" stroke-width="0.9"/>
<text x="106.72" y="663.10" font-size="6.1" text-anchor="start" font-weight="normal" fill="#111" font-family='"Liberation Sans", sans-serif' stroke="#111" stroke-width="0.12" transform="rotate(-90 106.72 663.10)">MM023</text>
<line x1="111.65" y1="637.23" x2="111.65" y2="639.73" stroke="#222" stroke-width="0.9"/>
<text x="113.95" y="663.10" font-size="6.1" text-anchor="start" font-weight="normal" fill="#111" font-family='"Liberation Sans", sans-serif' stroke="#111" stroke-width="0.12" transform="rotate(-90 113.95 663.10)">MM025</text>
<line x1="118.88" y1="637.23" x2="118.88" y2="639.73" stroke="#222" stroke-width="0.9"/>
<text x="121.18" y="663.10" font-size="6.1" text-anchor="start" font-weight="normal" fill="#111" font-family='"Liberation Sans", sans-serif' stroke="#111" stroke-width="0.12" transform="rotate(-90 121.18 663.10)">MM031</text>
<line x1="126.12" y1="637.23" x2="126.12" y2="639.73" stroke="#222" stroke-width="0.9"/>
<text x="128.42" y="663.10" font-size="6.1" text-anchor="start" font-weight="normal" fill="#111" font-family='"Liberation Sans", sans-serif' stroke="#111" stroke-width="0.12" transform="rotate(-90 128.42 663.10)">MM040</text>
<line x1="133.35" y1="637.23" x2="133.35" y2="639.73" stroke="#222" stroke-width="0.9"/>
<text x="135.65" y="663.10" font-size="6.1" text-anchor="start" font-weight="normal" fill="#111" font-family='"Liberation Sans", sans-serif' stroke="#111" stroke-width="0.12" transform="rotate(-90 135.65 663.10)">MM041</text>
<line x1="140.59" y1="637.23" x2="140.59" y2="639.73" stroke="#222" stroke-width="0.9"/>
<text x="142.89" y="663.10" font-size="6.1" text-anchor="start" font-weight="normal" fill="#111" font-family='"Liberation Sans", sans-serif' stroke="#111" stroke-width="0.12" transform="rotate(-90 142.89 663.10)">MM043</text>
<line x1="147.82" y1="637.23" x2="147.82" y2="639.73" stroke="#222" stroke-width="0.9"/>
<text x="150.12" y="663.10" font-size="6.1" text-anchor="start" font-weight="normal" fill="#111" font-family='"Liberation Sans", sans-serif' stroke="#111" stroke-width="0.12" transform="rotate(-90 150.12 663.10)">MM045</text>
<line x1="155.06" y1="637.23" x2="155.06" y2="639.73" stroke="#222" stroke-width="0.9"/>
<text x="157.36" y="663.10" font-size="6.1" text-anchor="start" font-weight="normal" fill="#111" font-family='"Liberation Sans", sans-serif' stroke="#111" stroke-width="0.12" transform="rotate(-90 157.36 663.10)">MM046</text>
<line x1="162.29" y1="637.23" x2="162.29" y2="639.73" stroke="#222" stroke-width="0.9"/>
<text x="164.59" y="663.10" font-size="6.1" text-anchor="start" font-weight="normal" fill="#111" font-family='"Liberation Sans", sans-serif' stroke="#111" stroke-width="0.12" transform="rotate(-90 164.59 663.10)">MM047</text>
<line x1="169.52" y1="637.23" x2="169.52" y2="639.73" stroke="#222" stroke-width="0.9"/>
<text x="171.82" y="663.10" font-size="6.1" text-anchor="start" font-weight="normal" fill="#111" font-family='"Liberation Sans", sans-serif' stroke="#111" stroke-width="0.12" transform="rotate(-90 171.82 663.10)">MM051</text>
<line x1="176.76" y1="637.23" x2="176.76" y2="639.73" stroke="#222" stroke-width="0.9"/>
<text x="179.06" y="663.10" font-size="6.1" text-anchor="start" font-weight="normal" fill="#111" font-family='"Liberation Sans", sans-serif' stroke="#111" stroke-width="0.12" transform="rotate(-90 179.06 663.10)">MM054</text>
<line x1="183.99" y1="637.23" x2="183.99" y2="639.73" stroke="#222" stroke-width="0.9"/>
<text x="186.29" y="663.10" font-size="6.1" text-anchor="start" font-weight="normal" fill="#111" font-family='"Liberation Sans", sans-serif' stroke="#111" stroke-width="0.12" transform="rotate(-90 186.29 663.10)">HD003</text>
<line x1="191.22" y1="637.23" x2="191.22" y2="639.73" stroke="#222" stroke-width="0.9"/>
<text x="193.53" y="663.10" font-size="6.1" text-anchor="start" font-weight="normal" fill="#111" font-family='"Liberation Sans", sans-serif' stroke="#111" stroke-width="0.12" transform="rotate(-90 193.53 663.10)">HD016</text>
<line x1="198.46" y1="637.23" x2="198.46" y2="639.73" stroke="#222" stroke-width="0.9"/>
<text x="200.76" y="663.10" font-size="6.1" text-anchor="start" font-weight="normal" fill="#111" font-family='"Liberation Sans", sans-serif' stroke="#111" stroke-width="0.12" transform="rotate(-90 200.76 663.10)">HD018</text>
<line x1="205.69" y1="637.23" x2="205.69" y2="639.73" stroke="#222" stroke-width="0.9"/>
<text x="207.99" y="663.10" font-size="6.1" text-anchor="start" font-weight="normal" fill="#111" font-family='"Liberation Sans", sans-serif' stroke="#111" stroke-width="0.12" transform="rotate(-90 207.99 663.10)">HD021</text>
<line x1="212.93" y1="637.23" x2="212.93" y2="639.73" stroke="#222" stroke-width="0.9"/>
<text x="215.23" y="663.10" font-size="6.1" text-anchor="start" font-weight="normal" fill="#111" font-family='"Liberation Sans", sans-serif' stroke="#111" stroke-width="0.12" transform="rotate(-90 215.23 663.10)">HD025</text>
<line x1="220.16" y1="637.23" x2="220.16" y2="639.73" stroke="#222" stroke-width="0.9"/>
<text x="222.46" y="663.10" font-size="6.1" text-anchor="start" font-weight="normal" fill="#111" font-family='"Liberation Sans", sans-serif' stroke="#111" stroke-width="0.12" transform="rotate(-90 222.46 663.10)">HD032</text>
<line x1="227.39" y1="637.23" x2="227.39" y2="639.73" stroke="#222" stroke-width="0.9"/>
<text x="229.69" y="663.10" font-size="6.1" text-anchor="start" font-weight="normal" fill="#111" font-family='"Liberation Sans", sans-serif' stroke="#111" stroke-width="0.12" transform="rotate(-90 229.69 663.10)">HD033</text>
<line x1="234.63" y1="637.23" x2="234.63" y2="639.73" stroke="#222" stroke-width="0.9"/>
<text x="236.93" y="663.10" font-size="6.1" text-anchor="start" font-weight="normal" fill="#111" font-family='"Liberation Sans", sans-serif' stroke="#111" stroke-width="0.12" transform="rotate(-90 236.93 663.10)">HD039</text>
<line x1="241.86" y1="637.23" x2="241.86" y2="639.73" stroke="#222" stroke-width="0.9"/>
<text x="244.16" y="663.10" font-size="6.1" text-anchor="start" font-weight="normal" fill="#111" font-family='"Liberation Sans", sans-serif' stroke="#111" stroke-width="0.12" transform="rotate(-90 244.16 663.10)">HD050</text>
<line x1="249.10" y1="637.23" x2="249.10" y2="639.73" stroke="#222" stroke-width="0.9"/>
<text x="251.40" y="663.10" font-size="6.1" text-anchor="start" font-weight="normal" fill="#111" font-family='"Liberation Sans", sans-serif' stroke="#111" stroke-width="0.12" transform="rotate(-90 251.40 663.10)">HD053</text>
<line x1="256.33" y1="637.23" x2="256.33" y2="639.73" stroke="#222" stroke-width="0.9"/>
<text x="258.63" y="663.10" font-size="6.1" text-anchor="start" font-weight="normal" fill="#111" font-family='"Liberation Sans", sans-serif' stroke="#111" stroke-width="0.12" transform="rotate(-90 258.63 663.10)">HD054</text>
<line x1="263.56" y1="637.23" x2="263.56" y2="639.73" stroke="#222" stroke-width="0.9"/>
<text x="265.87" y="663.10" font-size="6.1" text-anchor="start" font-weight="normal" fill="#111" font-family='"Liberation Sans", sans-serif' stroke="#111" stroke-width="0.12" transform="rotate(-90 265.87 663.10)">MM127</text>
<line x1="270.80" y1="637.23" x2="270.80" y2="639.73" stroke="#222" stroke-width="0.9"/>
<text x="273.10" y="663.10" font-size="6.1" text-anchor="start" font-weight="normal" fill="#111" font-family='"Liberation Sans", sans-serif' stroke="#111" stroke-width="0.12" transform="rotate(-90 273.10 663.10)">MM129</text>
<line x1="278.03" y1="637.23" x2="278.03" y2="639.73" stroke="#222" stroke-width="0.9"/>
<text x="280.33" y="663.10" font-size="6.1" text-anchor="start" font-weight="normal" fill="#111" font-family='"Liberation Sans", sans-serif' stroke="#111" stroke-width="0.12" transform="rotate(-90 280.33 663.10)">MM134</text>
<line x1="285.27" y1="637.23" x2="285.27" y2="639.73" stroke="#222" stroke-width="0.9"/>
<text x="287.57" y="663.10" font-size="6.1" text-anchor="start" font-weight="normal" fill="#111" font-family='"Liberation Sans", sans-serif' stroke="#111" stroke-width="0.12" transform="rotate(-90 287.57 663.10)">MM153</text>
<line x1="292.50" y1="637.23" x2="292.50" y2="639.73" stroke="#222" stroke-width="0.9"/>
<text x="294.80" y="663.10" font-size="6.1" text-anchor="start" font-weight="normal" fill="#111" font-family='"Liberation Sans", sans-serif' stroke="#111" stroke-width="0.12" transform="rotate(-90 294.80 663.10)">MM154</text>
<line x1="299.74" y1="637.23" x2="299.74" y2="639.73" stroke="#222" stroke-width="0.9"/>
<text x="302.04" y="663.10" font-size="6.1" text-anchor="start" font-weight="normal" fill="#111" font-family='"Liberation Sans", sans-serif' stroke="#111" stroke-width="0.12" transform="rotate(-90 302.04 663.10)">MM155</text>
<line x1="306.97" y1="637.23" x2="306.97" y2="639.73" stroke="#222" stroke-width="0.9"/>
<text x="309.27" y="663.10" font-size="6.1" text-anchor="start" font-weight="normal" fill="#111" font-family='"Liberation Sans", sans-serif' stroke="#111" stroke-width="0.12" transform="rotate(-90 309.27 663.10)">MM088</text>
<line x1="314.20" y1="637.23" x2="314.20" y2="639.73" stroke="#222" stroke-width="0.9"/>
<text x="316.50" y="663.10" font-size="6.1" text-anchor="start" font-weight="normal" fill="#111" font-family='"Liberation Sans", sans-serif' stroke="#111" stroke-width="0.12" transform="rotate(-90 316.50 663.10)">MM094</text>
<line x1="321.44" y1="637.23" x2="321.44" y2="639.73" stroke="#222" stroke-width="0.9"/>
<text x="323.74" y="663.10" font-size="6.1" text-anchor="start" font-weight="normal" fill="#111" font-family='"Liberation Sans", sans-serif' stroke="#111" stroke-width="0.12" transform="rotate(-90 323.74 663.10)">MM138</text>
<line x1="328.67" y1="637.23" x2="328.67" y2="639.73" stroke="#222" stroke-width="0.9"/>
<text x="330.97" y="663.10" font-size="6.1" text-anchor="start" font-weight="normal" fill="#111" font-family='"Liberation Sans", sans-serif' stroke="#111" stroke-width="0.12" transform="rotate(-90 330.97 663.10)">MM139</text>
<line x1="335.90" y1="637.23" x2="335.90" y2="639.73" stroke="#222" stroke-width="0.9"/>
<text x="338.20" y="663.10" font-size="6.1" text-anchor="start" font-weight="normal" fill="#111" font-family='"Liberation Sans", sans-serif' stroke="#111" stroke-width="0.12" transform="rotate(-90 338.20 663.10)">MM141</text>
<line x1="343.14" y1="637.23" x2="343.14" y2="639.73" stroke="#222" stroke-width="0.9"/>
<text x="345.44" y="663.10" font-size="6.1" text-anchor="start" font-weight="normal" fill="#111" font-family='"Liberation Sans", sans-serif' stroke="#111" stroke-width="0.12" transform="rotate(-90 345.44 663.10)">MM155</text>
<line x1="350.37" y1="637.23" x2="350.37" y2="639.73" stroke="#222" stroke-width="0.9"/>
<text x="352.67" y="663.10" font-size="6.1" text-anchor="start" font-weight="normal" fill="#111" font-family='"Liberation Sans", sans-serif' stroke="#111" stroke-width="0.12" transform="rotate(-90 352.67 663.10)">MM033</text>
<line x1="357.61" y1="637.23" x2="357.61" y2="639.73" stroke="#222" stroke-width="0.9"/>
<text x="359.91" y="663.10" font-size="6.1" text-anchor="start" font-weight="normal" fill="#111" font-family='"Liberation Sans", sans-serif' stroke="#111" stroke-width="0.12" transform="rotate(-90 359.91 663.10)">MM037</text>
<line x1="364.84" y1="637.23" x2="364.84" y2="639.73" stroke="#222" stroke-width="0.9"/>
<text x="367.14" y="663.10" font-size="6.1" text-anchor="start" font-weight="normal" fill="#111" font-family='"Liberation Sans", sans-serif' stroke="#111" stroke-width="0.12" transform="rotate(-90 367.14 663.10)">MM039</text>
<line x1="372.07" y1="637.23" x2="372.07" y2="639.73" stroke="#222" stroke-width="0.9"/>
<text x="374.38" y="663.10" font-size="6.1" text-anchor="start" font-weight="normal" fill="#111" font-family='"Liberation Sans", sans-serif' stroke="#111" stroke-width="0.12" transform="rotate(-90 374.38 663.10)">MM117</text>
<line x1="379.31" y1="637.23" x2="379.31" y2="639.73" stroke="#222" stroke-width="0.9"/>
<text x="381.61" y="663.10" font-size="6.1" text-anchor="start" font-weight="normal" fill="#111" font-family='"Liberation Sans", sans-serif' stroke="#111" stroke-width="0.12" transform="rotate(-90 381.61 663.10)">MM142</text>
<line x1="386.54" y1="637.23" x2="386.54" y2="639.73" stroke="#222" stroke-width="0.9"/>
<text x="388.84" y="663.10" font-size="6.1" text-anchor="start" font-weight="normal" fill="#111" font-family='"Liberation Sans", sans-serif' stroke="#111" stroke-width="0.12" transform="rotate(-90 388.84 663.10)">MM143</text>
<line x1="393.78" y1="637.23" x2="393.78" y2="639.73" stroke="#222" stroke-width="0.9"/>
<text x="396.08" y="663.10" font-size="6.1" text-anchor="start" font-weight="normal" fill="#111" font-family='"Liberation Sans", sans-serif' stroke="#111" stroke-width="0.12" transform="rotate(-90 396.08 663.10)">CP001</text>
<line x1="401.01" y1="637.23" x2="401.01" y2="639.73" stroke="#222" stroke-width="0.9"/>
<text x="403.31" y="663.10" font-size="6.1" text-anchor="start" font-weight="normal" fill="#111" font-family='"Liberation Sans", sans-serif' stroke="#111" stroke-width="0.12" transform="rotate(-90 403.31 663.10)">CP002</text>
<line x1="408.25" y1="637.23" x2="408.25" y2="639.73" stroke="#222" stroke-width="0.9"/>
<text x="410.55" y="663.10" font-size="6.1" text-anchor="start" font-weight="normal" fill="#111" font-family='"Liberation Sans", sans-serif' stroke="#111" stroke-width="0.12" transform="rotate(-90 410.55 663.10)">CP003</text>
<line x1="415.48" y1="637.23" x2="415.48" y2="639.73" stroke="#222" stroke-width="0.9"/>
<text x="417.78" y="663.10" font-size="6.1" text-anchor="start" font-weight="normal" fill="#111" font-family='"Liberation Sans", sans-serif' stroke="#111" stroke-width="0.12" transform="rotate(-90 417.78 663.10)">CP004</text>
<line x1="422.71" y1="637.23" x2="422.71" y2="639.73" stroke="#222" stroke-width="0.9"/>
<text x="425.01" y="663.10" font-size="6.1" text-anchor="start" font-weight="normal" fill="#111" font-family='"Liberation Sans", sans-serif' stroke="#111" stroke-width="0.12" transform="rotate(-90 425.01 663.10)">CP005</text>
<line x1="429.95" y1="637.23" x2="429.95" y2="639.73" stroke="#222" stroke-width="0.9"/>
<text x="432.25" y="663.10" font-size="6.1" text-anchor="start" font-weight="normal" fill="#111" font-family='"Liberation Sans", sans-serif' stroke="#111" stroke-width="0.12" transform="rotate(-90 432.25 663.10)">CP006</text>
<line x1="437.18" y1="637.23" x2="437.18" y2="639.73" stroke="#222" stroke-width="0.9"/>
<text x="439.48" y="663.10" font-size="6.1" text-anchor="start" font-weight="normal" fill="#111" font-family='"Liberation Sans", sans-serif' stroke="#111" stroke-width="0.12" transform="rotate(-90 439.48 663.10)">CP007</text>
<line x1="101.20" y1="668.30" x2="175.90" y2="668.30" stroke="#111" stroke-width="1.3"/>
<text x="138.55" y="678.30" font-size="7.45" text-anchor="middle" font-weight="normal" fill="#111" font-family='"Liberation Sans", sans-serif' stroke="#111" stroke-width="0.22">myeloma</text>
<text x="138.55" y="687.25" font-size="7.45" text-anchor="middle" font-weight="normal" fill="#111" font-family='"Liberation Sans", sans-serif' stroke="#111" stroke-width="0.22">after allogeneic HSCT</text>
<text x="138.55" y="696.20" font-size="7.45" text-anchor="middle" font-weight="normal" fill="#111" font-family='"Liberation Sans", sans-serif' stroke="#111" stroke-width="0.22">(with oligoclonal Ab)</text>
<line x1="182.50" y1="668.30" x2="257.50" y2="668.30" stroke="#111" stroke-width="1.3"/>
<text x="220.00" y="678.30" font-size="7.45" text-anchor="middle" font-weight="normal" fill="#111" font-family='"Liberation Sans", sans-serif' stroke="#111" stroke-width="0.22">healthy donors</text>
<line x1="262.30" y1="668.30" x2="300.20" y2="668.30" stroke="#111" stroke-width="1.3"/>
<text x="281.25" y="678.30" font-size="7.45" text-anchor="middle" font-weight="normal" fill="#111" font-family='"Liberation Sans", sans-serif' stroke="#111" stroke-width="0.22">myeloma</text>
<text x="281.25" y="687.25" font-size="7.45" text-anchor="middle" font-weight="normal" fill="#111" font-family='"Liberation Sans", sans-serif' stroke="#111" stroke-width="0.22">first</text>
<text x="281.25" y="696.20" font-size="7.45" text-anchor="middle" font-weight="normal" fill="#111" font-family='"Liberation Sans", sans-serif' stroke="#111" stroke-width="0.22">diagnosis</text>
<line x1="306.00" y1="668.30" x2="344.40" y2="668.30" stroke="#111" stroke-width="1.3"/>
<text x="325.20" y="678.30" font-size="7.45" text-anchor="middle" font-weight="normal" fill="#111" font-family='"Liberation Sans", sans-serif' stroke="#111" stroke-width="0.22">myeloma</text>
<text x="325.20" y="687.25" font-size="7.45" text-anchor="middle" font-weight="normal" fill="#111" font-family='"Liberation Sans", sans-serif' stroke="#111" stroke-width="0.22">after</text>
<text x="325.20" y="696.20" font-size="7.45" text-anchor="middle" font-weight="normal" fill="#111" font-family='"Liberation Sans", sans-serif' stroke="#111" stroke-width="0.22">Bortezomib</text>
<text x="325.20" y="705.15" font-size="7.45" text-anchor="middle" font-weight="normal" fill="#111" font-family='"Liberation Sans", sans-serif' stroke="#111" stroke-width="0.22">induction</text>
<line x1="351.00" y1="668.30" x2="388.70" y2="668.30" stroke="#111" stroke-width="1.3"/>
<text x="369.85" y="678.30" font-size="7.45" text-anchor="middle" font-weight="normal" fill="#111" font-family='"Liberation Sans", sans-serif' stroke="#111" stroke-width="0.22">myeloma</text>
<text x="369.85" y="687.25" font-size="7.45" text-anchor="middle" font-weight="normal" fill="#111" font-family='"Liberation Sans", sans-serif' stroke="#111" stroke-width="0.22">after</text>
<text x="369.85" y="696.20" font-size="7.45" text-anchor="middle" font-weight="normal" fill="#111" font-family='"Liberation Sans", sans-serif' stroke="#111" stroke-width="0.22">allogeneic</text>
<text x="369.85" y="705.15" font-size="7.45" text-anchor="middle" font-weight="normal" fill="#111" font-family='"Liberation Sans", sans-serif' stroke="#111" stroke-width="0.22">HSCT</text>
<line x1="394.00" y1="668.30" x2="437.70" y2="668.30" stroke="#111" stroke-width="1.3"/>
<text x="415.85" y="678.30" font-size="7.45" text-anchor="middle" font-weight="normal" fill="#111" font-family='"Liberation Sans", sans-serif' stroke="#111" stroke-width="0.22">non-myeloma</text>
<text x="415.85" y="687.25" font-size="7.45" text-anchor="middle" font-weight="normal" fill="#111" font-family='"Liberation Sans", sans-serif' stroke="#111" stroke-width="0.22">after</text>
<text x="415.85" y="696.20" font-size="7.45" text-anchor="middle" font-weight="normal" fill="#111" font-family='"Liberation Sans", sans-serif' stroke="#111" stroke-width="0.22">allogeneic</text>
<text x="415.85" y="705.15" font-size="7.45" text-anchor="middle" font-weight="normal" fill="#111" font-family='"Liberation Sans", sans-serif' stroke="#111" stroke-width="0.22">HSCT</text>
<text x="369.60" y="713.80" font-size="7.45" text-anchor="middle" font-weight="normal" fill="#111" font-family='"Liberation Sans", sans-serif' stroke="#111" stroke-width="0.22">(w/o oligoclonal Ab)</text>
<defs><linearGradient id="cb" x1="0" y1="0" x2="0" y2="1"><stop offset="0.0000" stop-color="#000000"/><stop offset="0.0125" stop-color="#020000"/><stop offset="0.0250" stop-color="#060000"/><stop offset="0.0375" stop-color="#090000"/><stop offset="0.0500" stop-color="#0d0000"/><stop offset="0.0625" stop-color="#110000"/><stop offset="0.0750" stop-color="#140000"/><stop offset="0.0875" stop-color="#180000"/><stop offset="0.1000" stop-color="#1c0000"/><stop offset="0.1125" stop-color="#200000"/><stop offset="0.1250" stop-color="#240000"/><stop offset="0.1375" stop-color="#280000"/><stop offset="0.1500" stop-color="#2d0000"/><stop offset="0.1625" stop-color="#310000"/><stop offset="0.1750" stop-color="#360000"/><stop offset="0.1875" stop-color="#3a0000"/><stop offset="0.2000" stop-color="#3f0000"/><stop offset="0.2125" stop-color="#430000"/><stop offset="0.2250" stop-color="#480000"/><stop offset="0.2375" stop-color="#4d0000"/><stop offset="0.2500" stop-color="#510000"/><stop offset="0.2625" stop-color="#560000"/><stop offset="0.2750" stop-color="#5a0000"/><stop offset="0.2875" stop-color="#5f0000"/><stop offset="0.3000" stop-color="#630000"/><stop offset="0.3125" stop-color="#680000"/><stop offset="0.3250" stop-color="#6c0000"/><stop offset="0.3375" stop-color="#710000"/><stop offset="0.3500" stop-color="#750000"/><stop offset="0.3625" stop-color="#7a0000"/><stop offset="0.3750" stop-color="#7e0000"/><stop offset="0.3875" stop-color="#840000"/><stop offset="0.4000" stop-color="#890000"/><stop offset="0.4125" stop-color="#8e0000"/><stop offset="0.4250" stop-color="#930000"/><stop offset="0.4375" stop-color="#980000"/><stop offset="0.4500" stop-color="#9d0000"/><stop offset="0.4625" stop-color="#a20000"/><stop offset="0.4750" stop-color="#a70000"/><stop offset="0.4875" stop-color="#ac0000"/><stop offset="0.5000" stop-color="#b10000"/><stop offset="0.5125" stop-color="#b50101"/><stop offset="0.5250" stop-color="#b80102"/><stop offset="0.5375" stop-color="#bc0103"/><stop offset="0.5500" stop-color="#c00203"/><stop offset="0.5625" stop-color="#c40204"/><stop offset="0.5750" stop-color="#c70205"/><stop offset="0.5875" stop-color="#cb0306"/><stop offset="0.6000" stop-color="#cf0306"/><stop offset="0.6125" stop-color="#d30407"/><stop offset="0.6250" stop-color="#d60408"/><stop offset="0.6375" stop-color="#db0409"/><stop offset="0.6500" stop-color="#df050a"/><stop offset="0.6625" stop-color="#e3050a"/><stop offset="0.6750" stop-color="#e8060b"/><stop offset="0.6875" stop-color="#ec060c"/><stop offset="0.7000" stop-color="#f0070b"/><stop offset="0.7125" stop-color="#f4070b"/><stop offset="0.7250" stop-color="#f8080a"/><stop offset="0.7375" stop-color="#f90e11"/><stop offset="0.7500" stop-color="#f51c22"/><stop offset="0.7625" stop-color="#f22a32"/><stop offset="0.7750" stop-color="#ef3843"/><stop offset="0.7875" stop-color="#ec4553"/><stop offset="0.8000" stop-color="#e95262"/><stop offset="0.8125" stop-color="#e75f71"/><stop offset="0.8250" stop-color="#e46e81"/><stop offset="0.8375" stop-color="#e07d93"/><stop offset="0.8500" stop-color="#dd8ba4"/><stop offset="0.8625" stop-color="#d89ab7"/><stop offset="0.8750" stop-color="#d2aaca"/><stop offset="0.8875" stop-color="#cbbddd"/><stop offset="0.9000" stop-color="#c7cdeb"/><stop offset="0.9125" stop-color="#c5d8f4"/><stop offset="0.9250" stop-color="#c7daf5"/><stop offset="0.9375" stop-color="#c9ddf6"/><stop offset="0.9500" stop-color="#ebf1fa"/><stop offset="0.9625" stop-color="#eff4fa"/><stop offset="0.9750" stop-color="#f0f5fb"/><stop offset="0.9875" stop-color="#f1f6fb"/><stop offset="1.0000" stop-color="#f2f7fc"/></linearGradient></defs>
<rect x="445.70" y="405.80" width="16.2" height="232.20" fill="url(#cb)" stroke="#222" stroke-width="1.1"/>
<line x1="461.90" y1="609.90" x2="464.30" y2="609.90" stroke="#222" stroke-width="1.0"/>
<text x="474.60" y="612.50" font-size="7.0" text-anchor="end" font-weight="normal" fill="#111" font-family='"Liberation Sans", sans-serif' stroke="#111" stroke-width="0.15">2</text>
<line x1="461.90" y1="580.30" x2="464.30" y2="580.30" stroke="#222" stroke-width="1.0"/>
<text x="474.60" y="582.90" font-size="7.0" text-anchor="end" font-weight="normal" fill="#111" font-family='"Liberation Sans", sans-serif' stroke="#111" stroke-width="0.15">4</text>
<line x1="461.90" y1="550.70" x2="464.30" y2="550.70" stroke="#222" stroke-width="1.0"/>
<text x="474.60" y="553.30" font-size="7.0" text-anchor="end" font-weight="normal" fill="#111" font-family='"Liberation Sans", sans-serif' stroke="#111" stroke-width="0.15">6</text>
<line x1="461.90" y1="521.10" x2="464.30" y2="521.10" stroke="#222" stroke-width="1.0"/>
<text x="474.60" y="523.70" font-size="7.0" text-anchor="end" font-weight="normal" fill="#111" font-family='"Liberation Sans", sans-serif' stroke="#111" stroke-width="0.15">8</text>
<line x1="461.90" y1="491.50" x2="464.30" y2="491.50" stroke="#222" stroke-width="1.0"/>
<text x="474.60" y="494.10" font-size="7.0" text-anchor="end" font-weight="normal" fill="#111" font-family='"Liberation Sans", sans-serif' stroke="#111" stroke-width="0.15">10</text>
<line x1="461.90" y1="461.90" x2="464.30" y2="461.90" stroke="#222" stroke-width="1.0"/>
<text x="474.60" y="464.50" font-size="7.0" text-anchor="end" font-weight="normal" fill="#111" font-family='"Liberation Sans", sans-serif' stroke="#111" stroke-width="0.15">12</text>
<line x1="461.90" y1="432.30" x2="464.30" y2="432.30" stroke="#222" stroke-width="1.0"/>
<text x="474.60" y="434.90" font-size="7.0" text-anchor="end" font-weight="normal" fill="#111" font-family='"Liberation Sans", sans-serif' stroke="#111" stroke-width="0.15">14</text>
<rect x="0.5" y="0.5" width="519" height="722" fill="none" stroke="#1a1a1a" stroke-width="1.2"/>
</svg>
</body></html>
